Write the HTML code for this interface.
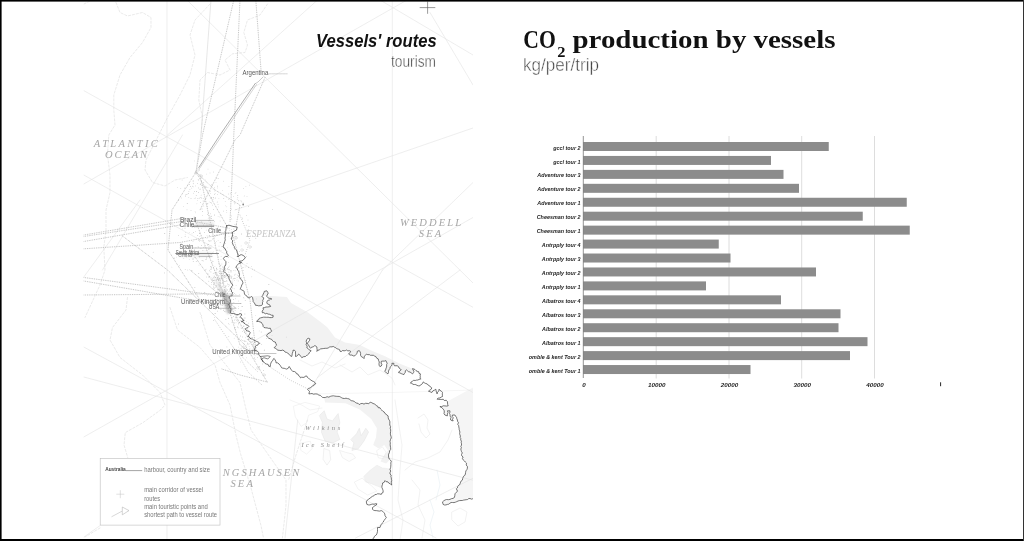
<!DOCTYPE html>
<html><head><meta charset="utf-8"><title>Vessels</title>
<style>
html,body{margin:0;padding:0;background:#fff;overflow:hidden}
body{width:1024px;height:541px;position:relative;font-family:"Liberation Sans",sans-serif}
svg{position:absolute;left:0;top:0;display:block}
.bl{font:italic bold 6.2px "Liberation Sans",sans-serif;fill:#222}
.t1{font:bold 24.5px "Liberation Serif",serif;fill:#111}
.t2{font:18px "Liberation Sans",sans-serif;fill:#444;stroke:#fff;stroke-width:0.45px}
.v1{font:italic bold 18.5px "Liberation Sans",sans-serif;fill:#111}
.v2{font:16px "Liberation Sans",sans-serif;fill:#444;stroke:#fff;stroke-width:0.4px}
.sea{font:italic 9.5px "Liberation Serif",serif;fill:#9a9a9a}
.lb{font:7px "Liberation Sans",sans-serif;fill:#5a5a5a}
.lg{font:7.4px "Liberation Sans",sans-serif;fill:#777}
</style></head><body>
<svg style="will-change:transform" width="1024" height="541" viewBox="0 0 1024 541">
<rect x="0" y="0" width="1024" height="541" fill="#fff"/>
<g id="map">
<clipPath id="mc"><rect x="83.5" y="0" width="389.5" height="541"/></clipPath>
<g clip-path="url(#mc)" stroke-linejoin="round" stroke-linecap="round">
<path d="M251.7,296.5 L263.0,295.6 L286.9,297.1 L291.0,303.0 L308.0,312.5 L321.3,322.5 L327.5,327.5 L335.0,337.5 L345.0,342.5 L360.0,345.0 L370.0,350.0 L385.0,356.3 L400.0,363.8 L412.5,368.8 L420.0,375.0 L422.5,380.0 L420.5,379.2 L420.5,373.9 L417.2,371.3 L412.5,368.6 L413.9,371.3 L412.5,373.9 L406.5,369.9 L403.9,374.6 L398.5,372.6 L401.2,369.9 L398.5,366.6 L394.6,365.9 L393.9,363.3 L391.9,363.3 L389.9,368.6 L387.9,373.9 L384.6,371.3 L387.2,363.3 L385.9,360.6 L381.3,361.3 L381.9,364.6 L379.9,366.6 L378.6,360.6 L375.9,356.6 L371.9,355.3 L366.6,354.0 L365.3,355.3 L364.0,358.6 L361.3,356.6 L359.3,350.6 L357.3,351.3 L356.0,354.6 L353.3,355.9 L348.6,354.0 L350.6,351.3 L346.7,350.0 L340.0,351.3 L339.5,349.6 L333.2,346.4 L326.9,348.3 L320.6,348.9 L316.9,351.4 L316.9,347.0 L314.3,345.8 L310.6,348.3 L307.4,343.9 L309.9,338.9 L308.1,338.2 L306.2,341.4 L306.8,347.7 L311.2,350.8 L309.3,352.7 L305.5,356.5 L301.8,357.7 L298.6,354.0 L295.5,356.5 L295.5,351.4 L293.0,350.2 L291.7,356.5 L287.9,353.3 L284.2,350.8 L277.9,350.2 L274.1,347.7 L276.6,345.2 L275.3,342.0 L270.3,338.9 L266.5,335.7 L267.8,333.8 L271.6,331.3 L270.3,328.2 L264.0,327.5 L261.5,322.5 L256.7,321.6 L260.5,317.9 L268.1,317.2 L273.1,317.2 L273.1,315.3 L268.1,314.1 L262.4,312.8 L263.0,307.8 L270.6,306.5 L266.8,302.8 L268.1,300.3 L271.8,299.0 L266.8,296.5 L268.1,294.0 L266.8,290.8 L264.3,291.4 L261.8,296.5 L263.6,297.7 L261.8,305.3 L255.5,305.3 L254.2,302.8 L251.7,296.5 Z" fill="#f2f2f2" stroke="none" stroke-width="0.7" />
<path d="M447.4,401.6 L474.0,387.0 L474.0,498.0 L474.0,498.0 L461.0,500.5 L452.5,502.5 L447.5,504.4 L443.1,504.4 L442.5,501.9 L445.0,500.0 L450.0,499.4 L454.4,497.5 L455.0,493.8 L457.5,491.3 L456.3,488.8 L458.5,485.4 L464.8,475.4 L467.4,468.2 L466.5,463.2 L463.2,459.9 L461.5,451.6 L460.7,439.9 L459.1,428.3 L457.4,420.0 L454.9,415.0 L452.4,415.0 L453.2,420.8 L450.7,420.0 L449.9,410.8 L447.4,410.8 L447.4,415.8 L444.9,415.0 L443.2,409.1 L439.9,406.6 L443.2,405.8 L448.2,405.8 L447.4,401.6 Z" fill="#f5f5f5" stroke="none" stroke-width="0.7" />
<path d="M324.0,397.6 L330.3,396.4 L337.8,396.4 L342.8,398.3 L349.1,398.9 L354.2,401.4 L359.2,404.6 L365.5,403.3 L371.8,402.7 L375.5,404.6 L380.6,409.0 L384.3,412.1 L388.1,415.9 L389.4,420.3 L390.6,426.6 L390.6,431.6 L391.3,437.9 L390.0,441.3 L390.6,447.6 L389.4,452.6 L388.7,457.6 L391.3,461.4 L389.8,459.7 L386.1,463.4 L380.6,461.5 L382.4,457.8 L388.0,450.5 L384.3,444.9 L378.7,448.6 L373.2,444.9 L376.0,437.5 L376.9,428.3 L371.3,419.0 L360.2,409.8 L345.5,403.3 L325.1,402.4 Z" fill="#f2f2f2" stroke="none" stroke-width="0.7" />
<path d="M363.9,476.3 L369.5,470.8 L376.9,465.2 L382.4,468.0 L389.8,468.9 L390.7,481.9 L388.8,483.1 L385.0,480.6 L382.5,483.1 L380.6,487.4 L371.3,483.7 L365.8,481.9 Z" fill="#f2f2f2" stroke="#e6e6e6" stroke-width="0.4" />
<path d="M319.6,415.3 L324.2,410.7 L327.0,419.0 L332.5,420.9 L338.1,413.5 L339.9,422.7 L337.1,432.0 L339.9,439.4 L332.5,443.1 L325.1,441.2 L321.4,432.0 L322.3,422.7 Z" fill="#f2f2f2" stroke="#e2e2e2" stroke-width="0.5" />
<path d="M351.0,439.4 L356.5,433.8 L359.3,428.3 L361.2,435.7 L365.8,428.3 L368.6,432.0 L363.9,441.2 L358.4,448.6 L351.9,450.5 L353.8,443.1 Z" fill="#f2f2f2" stroke="#e2e2e2" stroke-width="0.5" />
<path d="M324.2,448.6 L329.7,450.5 L330.7,459.7 L327.0,465.2 L323.3,459.7 Z" fill="#fdfdfd" stroke="#e2e2e2" stroke-width="0.5" />
<path d="M339.9,450.5 L345.5,452.3 L352.8,454.1 L355.6,457.8 L349.1,461.5 L342.7,457.8 Z" fill="#fdfdfd" stroke="#e4e4e4" stroke-width="0.5" />
<path d="M293.7,406.1 L304.8,402.4 L319.6,406.1 L317.7,411.6 L308.5,415.3 L306.6,422.7 L301.1,426.4 L295.5,417.2 Z" fill="none" stroke="#e9e9e9" stroke-width="0.5" />
<path d="M301.1,443.1 L310.3,441.2 L312.2,448.6 L306.6,454.1 L301.1,450.5 Z" fill="none" stroke="#e9e9e9" stroke-width="0.5" />
<path d="M354.7,481.9 L362.1,478.2 L371.3,485.6 L376.9,491.1 L367.6,495.0 L358.4,489.3 Z" fill="none" stroke="#e6e6e6" stroke-width="0.5" />
<path d="M376.9,450.5 L382.4,446.8 L386.1,452.3 L383.3,458.8 L378.7,457.8 Z" fill="none" stroke="#e6e6e6" stroke-width="0.5" />
<path d="M340.0,365.0 L352.0,372.0 L360.0,367.0 L368.0,375.0 L380.0,370.0 L392.0,378.0 L395.0,385.0" fill="none" stroke="#e9e9e9" stroke-width="0.6" />
<path d="M300.0,360.0 L312.0,366.0 L322.0,362.0 L335.0,368.0 L345.0,364.0" fill="none" stroke="#e9e9e9" stroke-width="0.6" />
<path d="M395.0,400.0 L398.0,420.0 L402.0,445.0 L400.0,470.0 L398.0,500.0 L403.0,520.0 L400.0,540.0" fill="none" stroke="#e9e9e9" stroke-width="0.6" />
<path d="M405.0,470.0 L415.0,462.0 L428.0,458.0 L440.0,452.0 L448.0,440.0 L452.0,430.0" fill="none" stroke="#e9e9e9" stroke-width="0.6" />
<path d="M418.0,418.0 L424.0,414.0 L428.0,420.0 L427.0,428.0 L430.0,434.0 L426.0,438.0 L421.0,432.0 L419.0,424.0" fill="none" stroke="#e9e9e9" stroke-width="0.6" />
<path d="M412.0,480.0 L420.0,490.0 L418.0,505.0 L425.0,520.0 L422.0,538.0" fill="none" stroke="#e9e9e9" stroke-width="0.6" />
<path d="M452.0,512.0 L460.0,508.0 L467.0,512.0 L465.0,522.0 L458.0,526.0 L452.0,520.0 Z" fill="none" stroke="#e9e9e9" stroke-width="0.6" />
<path d="M430.0,500.0 L434.0,512.0 L430.0,525.0 L433.0,538.0" fill="none" stroke="#e6eef4" stroke-width="0.6" />
<path d="M437.0,470.0 L440.0,485.0 L436.0,500.0" fill="none" stroke="#e6eef4" stroke-width="0.6" />
<path d="M310.0,394.0 L392.0,392.5 L473.0,390.0" fill="none" stroke="#ececec" stroke-width="0.5" />
<path d="M290.0,400.0 L300.0,404.0 L310.0,410.0 L322.0,408.0" fill="none" stroke="#e9e9e9" stroke-width="0.5" />
<line x1="167" y1="0" x2="167" y2="541" stroke="#e3e3e3" stroke-width="0.6" />
<line x1="392.3" y1="0" x2="392.3" y2="541" stroke="#e3e3e3" stroke-width="0.6" />
<line x1="83.75" y1="90.6" x2="473" y2="307.3" stroke="#e3e3e3" stroke-width="0.6" />
<line x1="83.75" y1="175" x2="473" y2="392.5" stroke="#e3e3e3" stroke-width="0.6" />
<line x1="187" y1="0" x2="473" y2="283" stroke="#e3e3e3" stroke-width="0.6" />
<line x1="407" y1="0" x2="83.75" y2="184" stroke="#e3e3e3" stroke-width="0.6" />
<line x1="317.5" y1="0" x2="167.5" y2="135" stroke="#e3e3e3" stroke-width="0.6" />
<line x1="182.5" y1="135" x2="102.5" y2="270" stroke="#e3e3e3" stroke-width="0.6" />
<line x1="235" y1="210" x2="473" y2="128" stroke="#e3e3e3" stroke-width="0.6" />
<line x1="430" y1="12.5" x2="473" y2="85" stroke="#e3e3e3" stroke-width="0.6" />
<line x1="380" y1="0" x2="473" y2="55" stroke="#e3e3e3" stroke-width="0.6" />
<line x1="473" y1="182.5" x2="382.5" y2="270" stroke="#e3e3e3" stroke-width="0.6" />
<line x1="382.5" y1="270" x2="310" y2="390" stroke="#e3e3e3" stroke-width="0.6" />
<line x1="460" y1="270" x2="317.5" y2="377.5" stroke="#e3e3e3" stroke-width="0.6" />
<line x1="83.75" y1="437" x2="473" y2="217.5" stroke="#e3e3e3" stroke-width="0.6" />
<line x1="83.75" y1="347" x2="436" y2="538" stroke="#e3e3e3" stroke-width="0.6" />
<line x1="83.75" y1="377" x2="473.6" y2="480.4" stroke="#e3e3e3" stroke-width="0.6" />
<line x1="355.5" y1="538" x2="473.6" y2="477.9" stroke="#e3e3e3" stroke-width="0.6" />
<line x1="297.7" y1="420" x2="285" y2="538" stroke="#e3e3e3" stroke-width="0.6" />
<line x1="100" y1="525.6" x2="84" y2="537" stroke="#e3e3e3" stroke-width="0.6" />
<line x1="83.75" y1="277" x2="140" y2="200" stroke="#e3e3e3" stroke-width="0.6" />
<path d="M116.0,2.5 L120.0,12.5 L127.5,16.0 L142.5,12.5 L151.0,17.5 L151.0,27.5 L142.5,42.5 L130.0,57.5 L120.0,75.0 L113.8,95.0 L113.8,110.0 L115.0,125.0 L108.8,135.0 L107.5,155.0 L110.0,175.0 L110.0,192.5 L106.0,210.0 L106.0,230.0 L103.8,247.5 L105.0,270.0 L100.0,285.0 L85.0,317.5" fill="none" stroke="#dbdbdb" stroke-width="0.6" stroke-dasharray="2.2 1.8"/>
<path d="M210.0,4.0 L195.0,20.0 L190.0,35.0 L195.0,55.0 L190.0,75.0 L180.0,95.0 L167.5,117.5 L160.0,132.5 L146.0,160.0 L145.0,170.0 L152.5,182.5 L165.0,186.0 L175.0,180.0 L187.5,177.5" fill="none" stroke="#dbdbdb" stroke-width="0.6" stroke-dasharray="2.2 1.8"/>
<path d="M267.5,4.0 L260.0,15.0 L247.5,20.0 L243.8,32.5 L247.5,45.0 L245.0,52.5 L232.5,53.8 L225.0,60.0 L230.0,70.0 L220.0,75.0 L207.5,72.5 L200.0,80.0 L198.8,100.0 L202.5,117.5 L201.0,135.0" fill="none" stroke="#dbdbdb" stroke-width="0.6" stroke-dasharray="2.2 1.8"/>
<path d="M127.5,297.5 L126.0,310.0 L112.5,327.5 L110.0,340.0 L120.0,357.5 L142.5,375.0 L160.0,392.5 L165.0,405.0 L160.5,410.0 L143.0,422.6 L125.3,432.6 L124.0,445.0 L127.8,457.8" fill="none" stroke="#dbdbdb" stroke-width="0.6" stroke-dasharray="2.2 1.8"/>
<path d="M170.0,307.5 L177.5,330.0 L200.0,347.5 L215.0,365.0 L220.0,382.5 L230.0,405.0 L235.9,435.0 L240.9,455.0 L251.0,488.0 L261.0,525.6 L263.5,538.0" fill="none" stroke="#dbdbdb" stroke-width="0.6" stroke-dasharray="2.2 1.8"/>
<path d="M200.0,312.5 L210.0,345.0 L240.0,382.5 L245.0,405.0 L251.0,430.0 L268.5,455.0 L286.0,480.0 L286.0,505.5 L282.4,538.0" fill="none" stroke="#dbdbdb" stroke-width="0.6" stroke-dasharray="2.2 1.8"/>
<path d="M307.5,420.0 L296.0,455.0 L288.6,480.0" fill="none" stroke="#dbdbdb" stroke-width="0.6" stroke-dasharray="2.2 1.8"/>
<path d="M100.0,528.0 L85.0,537.0" fill="none" stroke="#dbdbdb" stroke-width="0.6" stroke-dasharray="2.2 1.8"/>
<path d="M84.0,4.0 L90.0,1.0" fill="none" stroke="#dbdbdb" stroke-width="0.6" stroke-dasharray="2.2 1.8"/>
<path d="M233.8,0.0 L202.5,135.0 L196.0,172.5" fill="none" stroke="#a2a2a2" stroke-width="0.7" stroke-dasharray="0.1 1.7"/>
<path d="M240.0,0.0 L233.8,135.0 L232.5,167.5 L230.0,222.5" fill="none" stroke="#a2a2a2" stroke-width="0.7" stroke-dasharray="0.1 1.7"/>
<path d="M255.8,0.0 L261.2,72.5" fill="none" stroke="#a2a2a2" stroke-width="0.7" stroke-dasharray="0.1 1.7"/>
<path d="M265.0,77.5 L240.0,135.0 L235.0,140.0 L200.0,210.0" fill="none" stroke="#a2a2a2" stroke-width="0.7" stroke-dasharray="0.1 1.7"/>
<path d="M83.8,235.0 L180.0,218.8 L228.0,228.0" fill="none" stroke="#a2a2a2" stroke-width="0.7" stroke-dasharray="0.1 1.7"/>
<path d="M83.8,236.5 L182.0,221.5" fill="none" stroke="#a2a2a2" stroke-width="0.7" stroke-dasharray="0.1 1.7"/>
<path d="M83.8,241.5 L180.0,225.0" fill="none" stroke="#a2a2a2" stroke-width="0.7" stroke-dasharray="0.1 1.7"/>
<path d="M83.8,248.8 L180.0,242.5 L229.0,233.0" fill="none" stroke="#a2a2a2" stroke-width="0.7" stroke-dasharray="0.1 1.7"/>
<path d="M122.5,236.0 L167.5,270.0 L245.0,345.0 L267.5,382.5" fill="none" stroke="#a2a2a2" stroke-width="0.7" stroke-dasharray="0.1 1.7"/>
<path d="M83.8,277.5 L215.0,295.0" fill="none" stroke="#a2a2a2" stroke-width="0.7" stroke-dasharray="0.1 1.7"/>
<path d="M83.8,281.0 L222.5,305.0" fill="none" stroke="#a2a2a2" stroke-width="0.7" stroke-dasharray="0.1 1.7"/>
<path d="M83.8,295.0 L215.0,293.8" fill="none" stroke="#a2a2a2" stroke-width="0.7" stroke-dasharray="0.1 1.7"/>
<path d="M190.0,270.0 L235.0,307.5" fill="none" stroke="#a2a2a2" stroke-width="0.7" stroke-dasharray="0.1 1.7"/>
<path d="M222.0,369.0 L240.0,375.0 L267.0,382.0" fill="none" stroke="#a2a2a2" stroke-width="0.7" stroke-dasharray="0.1 1.7"/>
<path d="M196.0,172.0 L228.0,228.0" fill="none" stroke="#a2a2a2" stroke-width="0.7" stroke-dasharray="0.1 1.7"/>
<path d="M196.0,172.0 L172.0,210.0 L168.0,250.0 L200.0,300.0 L228.0,300.0" fill="none" stroke="#a2a2a2" stroke-width="0.7" stroke-dasharray="0.1 1.7"/>
<path d="M196.0,172.0 L215.0,190.0 L240.0,205.0 L236.0,226.0" fill="none" stroke="#a2a2a2" stroke-width="0.7" stroke-dasharray="0.1 1.7"/>
<path d="M196.0,222.0 L226.0,300.0" fill="none" stroke="#a2a2a2" stroke-width="0.7" stroke-dasharray="0.1 1.7"/>
<path d="M190.0,250.0 L226.0,300.0" fill="none" stroke="#a2a2a2" stroke-width="0.7" stroke-dasharray="0.1 1.7"/>
<path d="M200.0,175.0 L212.0,230.0 L226.0,296.0" fill="none" stroke="#a2a2a2" stroke-width="0.7" stroke-dasharray="0.1 1.7"/>
<path d="M232.0,232.0 L250.0,300.0 L256.0,352.0" fill="none" stroke="#a2a2a2" stroke-width="0.7" stroke-dasharray="0.1 1.7"/>
<path d="M228.0,302.0 L256.0,352.0" fill="none" stroke="#a2a2a2" stroke-width="0.7" stroke-dasharray="0.1 1.7"/>
<path d="M226.0,300.0 L240.0,345.0 L255.0,355.0" fill="none" stroke="#a2a2a2" stroke-width="0.7" stroke-dasharray="0.1 1.7"/>
<path d="M270.0,367.0 L290.0,380.0 L310.0,390.0" fill="none" stroke="#bbb" stroke-width="0.8" stroke-dasharray="0.1 2.2"/>
<path d="M236.0,350.0 L248.0,372.0 L262.0,385.0" fill="none" stroke="#bbb" stroke-width="0.8" stroke-dasharray="0.1 2.2"/>
<path d="M215.0,320.0 L235.0,350.0 L258.0,372.0" fill="none" stroke="#bbb" stroke-width="0.8" stroke-dasharray="0.1 2.2"/>
<path d="M240.0,215.0 L250.0,240.0 L245.0,255.0" fill="none" stroke="#bbb" stroke-width="0.8" stroke-dasharray="0.1 2.2"/>
<path d="M211.0,0.0 L201.0,135.0 L196.0,172.0" fill="none" stroke="#cfcfcf" stroke-width="0.5" />
<path d="M255.0,83.8 L220.0,135.0 L198.8,167.5" fill="none" stroke="#777" stroke-width="0.6" />
<path d="M256.5,84.5 L221.5,136.0 L199.5,168.5" fill="none" stroke="#aaa" stroke-width="0.5" />
<path d="M263.0,77.0 L258.0,82.0 L255.0,83.8" fill="none" stroke="#999" stroke-width="0.5" />
<circle cx="200.2" cy="197.6" r="0.4" fill="#aaa"/>
<circle cx="215.2" cy="198.0" r="0.4" fill="#999"/>
<circle cx="182.1" cy="180.0" r="0.4" fill="#bbb"/>
<circle cx="214.4" cy="194.7" r="0.4" fill="#aaa"/>
<circle cx="203.8" cy="205.9" r="0.4" fill="#aaa"/>
<circle cx="205.6" cy="187.0" r="0.4" fill="#bbb"/>
<circle cx="193.1" cy="181.4" r="0.4" fill="#aaa"/>
<circle cx="193.2" cy="186.8" r="0.4" fill="#bbb"/>
<circle cx="223.8" cy="198.3" r="0.4" fill="#999"/>
<circle cx="191.0" cy="198.7" r="0.4" fill="#999"/>
<circle cx="187.5" cy="185.8" r="0.4" fill="#aaa"/>
<circle cx="189.3" cy="184.3" r="0.4" fill="#999"/>
<circle cx="217.2" cy="202.0" r="0.4" fill="#aaa"/>
<circle cx="193.6" cy="183.2" r="0.4" fill="#c4c4c4"/>
<circle cx="205.1" cy="179.9" r="0.4" fill="#c4c4c4"/>
<circle cx="197.6" cy="198.4" r="0.4" fill="#bbb"/>
<circle cx="200.4" cy="184.2" r="0.4" fill="#999"/>
<circle cx="180.8" cy="188.5" r="0.4" fill="#c4c4c4"/>
<circle cx="195.7" cy="221.9" r="0.4" fill="#aaa"/>
<circle cx="196.4" cy="191.5" r="0.4" fill="#999"/>
<circle cx="210.4" cy="202.4" r="0.4" fill="#aaa"/>
<circle cx="207.3" cy="191.0" r="0.4" fill="#999"/>
<circle cx="197.5" cy="200.6" r="0.4" fill="#c4c4c4"/>
<circle cx="192.4" cy="186.2" r="0.4" fill="#aaa"/>
<circle cx="214.7" cy="187.8" r="0.4" fill="#aaa"/>
<circle cx="218.9" cy="198.4" r="0.4" fill="#c4c4c4"/>
<circle cx="200.7" cy="202.6" r="0.4" fill="#999"/>
<circle cx="215.1" cy="193.7" r="0.4" fill="#bbb"/>
<circle cx="193.2" cy="183.8" r="0.4" fill="#bbb"/>
<circle cx="203.7" cy="186.2" r="0.4" fill="#bbb"/>
<circle cx="183.3" cy="206.7" r="0.4" fill="#c4c4c4"/>
<circle cx="213.5" cy="197.8" r="0.4" fill="#999"/>
<circle cx="218.1" cy="178.4" r="0.4" fill="#999"/>
<circle cx="194.3" cy="160.9" r="0.4" fill="#c4c4c4"/>
<circle cx="209.1" cy="190.3" r="0.4" fill="#bbb"/>
<circle cx="212.4" cy="205.1" r="0.4" fill="#aaa"/>
<circle cx="188.4" cy="193.4" r="0.4" fill="#999"/>
<circle cx="201.8" cy="198.0" r="0.4" fill="#999"/>
<circle cx="195.6" cy="185.9" r="0.4" fill="#bbb"/>
<circle cx="198.2" cy="179.7" r="0.4" fill="#aaa"/>
<circle cx="181.6" cy="198.0" r="0.4" fill="#c4c4c4"/>
<circle cx="194.2" cy="198.6" r="0.4" fill="#c4c4c4"/>
<circle cx="200.4" cy="189.1" r="0.4" fill="#aaa"/>
<circle cx="214.8" cy="190.9" r="0.4" fill="#aaa"/>
<circle cx="201.1" cy="195.1" r="0.4" fill="#aaa"/>
<circle cx="190.5" cy="186.4" r="0.4" fill="#999"/>
<circle cx="199.8" cy="189.2" r="0.4" fill="#bbb"/>
<circle cx="198.3" cy="187.9" r="0.4" fill="#999"/>
<circle cx="217.4" cy="187.9" r="0.4" fill="#c4c4c4"/>
<circle cx="218.3" cy="206.9" r="0.4" fill="#c4c4c4"/>
<circle cx="193.6" cy="193.2" r="0.4" fill="#bbb"/>
<circle cx="211.1" cy="198.0" r="0.4" fill="#999"/>
<circle cx="186.3" cy="194.3" r="0.4" fill="#aaa"/>
<circle cx="210.5" cy="218.0" r="0.4" fill="#999"/>
<circle cx="211.3" cy="203.0" r="0.4" fill="#aaa"/>
<circle cx="203.5" cy="182.8" r="0.4" fill="#aaa"/>
<circle cx="200.2" cy="183.9" r="0.4" fill="#999"/>
<circle cx="211.6" cy="186.4" r="0.4" fill="#bbb"/>
<circle cx="184.3" cy="188.1" r="0.4" fill="#999"/>
<circle cx="193.1" cy="180.5" r="0.4" fill="#bbb"/>
<circle cx="210.0" cy="172.9" r="0.4" fill="#bbb"/>
<circle cx="207.0" cy="204.2" r="0.4" fill="#aaa"/>
<circle cx="222.4" cy="190.7" r="0.4" fill="#c4c4c4"/>
<circle cx="202.0" cy="208.9" r="0.4" fill="#999"/>
<circle cx="178.5" cy="200.4" r="0.4" fill="#999"/>
<circle cx="213.1" cy="189.1" r="0.4" fill="#bbb"/>
<circle cx="212.9" cy="199.4" r="0.4" fill="#999"/>
<circle cx="207.4" cy="206.8" r="0.4" fill="#aaa"/>
<circle cx="187.1" cy="194.1" r="0.4" fill="#aaa"/>
<circle cx="205.8" cy="187.2" r="0.4" fill="#c4c4c4"/>
<circle cx="206.7" cy="174.1" r="0.4" fill="#c4c4c4"/>
<circle cx="212.0" cy="184.5" r="0.4" fill="#999"/>
<circle cx="225.7" cy="205.8" r="0.4" fill="#c4c4c4"/>
<circle cx="185.3" cy="196.2" r="0.4" fill="#aaa"/>
<circle cx="201.9" cy="185.4" r="0.4" fill="#bbb"/>
<circle cx="217.5" cy="194.5" r="0.4" fill="#c4c4c4"/>
<circle cx="205.1" cy="186.2" r="0.4" fill="#c4c4c4"/>
<circle cx="197.4" cy="183.5" r="0.4" fill="#bbb"/>
<circle cx="222.5" cy="194.6" r="0.4" fill="#aaa"/>
<circle cx="177.7" cy="187.7" r="0.4" fill="#c4c4c4"/>
<circle cx="210.2" cy="191.4" r="0.4" fill="#bbb"/>
<circle cx="210.5" cy="193.3" r="0.4" fill="#bbb"/>
<circle cx="203.8" cy="182.3" r="0.4" fill="#c4c4c4"/>
<circle cx="205.0" cy="188.6" r="0.4" fill="#999"/>
<circle cx="216.0" cy="182.3" r="0.4" fill="#c4c4c4"/>
<circle cx="213.5" cy="172.0" r="0.4" fill="#bbb"/>
<circle cx="189.9" cy="189.3" r="0.4" fill="#aaa"/>
<circle cx="216.3" cy="178.4" r="0.4" fill="#aaa"/>
<circle cx="204.0" cy="185.8" r="0.4" fill="#bbb"/>
<circle cx="185.6" cy="194.9" r="0.4" fill="#aaa"/>
<circle cx="196.9" cy="203.8" r="0.4" fill="#c4c4c4"/>
<circle cx="204.1" cy="186.9" r="0.4" fill="#aaa"/>
<circle cx="203.1" cy="200.9" r="0.4" fill="#aaa"/>
<circle cx="188.9" cy="191.3" r="0.4" fill="#aaa"/>
<circle cx="188.8" cy="197.3" r="0.4" fill="#bbb"/>
<circle cx="198.7" cy="180.7" r="0.4" fill="#c4c4c4"/>
<circle cx="194.7" cy="191.6" r="0.4" fill="#999"/>
<circle cx="223.6" cy="181.2" r="0.4" fill="#bbb"/>
<circle cx="206.2" cy="187.0" r="0.4" fill="#aaa"/>
<circle cx="195.5" cy="198.0" r="0.4" fill="#bbb"/>
<circle cx="196.2" cy="195.3" r="0.4" fill="#999"/>
<circle cx="208.0" cy="169.1" r="0.4" fill="#bbb"/>
<circle cx="217.7" cy="186.1" r="0.4" fill="#999"/>
<circle cx="217.2" cy="209.8" r="0.4" fill="#c4c4c4"/>
<circle cx="208.2" cy="218.7" r="0.4" fill="#c4c4c4"/>
<circle cx="207.9" cy="187.7" r="0.4" fill="#bbb"/>
<circle cx="209.2" cy="201.9" r="0.4" fill="#c4c4c4"/>
<circle cx="199.1" cy="198.2" r="0.4" fill="#999"/>
<circle cx="211.8" cy="197.7" r="0.4" fill="#999"/>
<circle cx="191.8" cy="188.1" r="0.4" fill="#aaa"/>
<circle cx="216.6" cy="280.8" r="0.4" fill="#999"/>
<circle cx="219.8" cy="275.8" r="0.4" fill="#bbb"/>
<circle cx="224.8" cy="275.5" r="0.4" fill="#999"/>
<circle cx="220.2" cy="288.9" r="0.4" fill="#bbb"/>
<circle cx="221.6" cy="279.1" r="0.4" fill="#c4c4c4"/>
<circle cx="227.3" cy="268.7" r="0.4" fill="#999"/>
<circle cx="215.8" cy="280.1" r="0.4" fill="#c4c4c4"/>
<circle cx="221.2" cy="273.5" r="0.4" fill="#aaa"/>
<circle cx="223.2" cy="272.4" r="0.4" fill="#aaa"/>
<circle cx="221.9" cy="277.1" r="0.4" fill="#aaa"/>
<circle cx="222.8" cy="273.6" r="0.4" fill="#bbb"/>
<circle cx="232.9" cy="280.9" r="0.4" fill="#c4c4c4"/>
<circle cx="241.2" cy="277.4" r="0.4" fill="#c4c4c4"/>
<circle cx="226.2" cy="273.9" r="0.4" fill="#bbb"/>
<circle cx="231.1" cy="278.5" r="0.4" fill="#aaa"/>
<circle cx="226.6" cy="275.1" r="0.4" fill="#bbb"/>
<circle cx="223.5" cy="281.0" r="0.4" fill="#999"/>
<circle cx="218.0" cy="275.2" r="0.4" fill="#c4c4c4"/>
<circle cx="218.2" cy="276.0" r="0.4" fill="#999"/>
<circle cx="228.4" cy="257.7" r="0.4" fill="#aaa"/>
<circle cx="231.7" cy="276.9" r="0.4" fill="#bbb"/>
<circle cx="217.5" cy="275.6" r="0.4" fill="#c4c4c4"/>
<circle cx="230.7" cy="282.9" r="0.4" fill="#c4c4c4"/>
<circle cx="217.8" cy="269.7" r="0.4" fill="#c4c4c4"/>
<circle cx="227.1" cy="275.0" r="0.4" fill="#bbb"/>
<circle cx="227.5" cy="275.4" r="0.4" fill="#bbb"/>
<circle cx="217.4" cy="279.1" r="0.4" fill="#aaa"/>
<circle cx="222.5" cy="275.1" r="0.4" fill="#999"/>
<circle cx="220.2" cy="276.9" r="0.4" fill="#c4c4c4"/>
<circle cx="228.1" cy="269.5" r="0.4" fill="#999"/>
<circle cx="214.5" cy="270.6" r="0.4" fill="#aaa"/>
<circle cx="218.6" cy="276.9" r="0.4" fill="#c4c4c4"/>
<circle cx="227.7" cy="276.1" r="0.4" fill="#999"/>
<circle cx="229.4" cy="274.7" r="0.4" fill="#bbb"/>
<circle cx="234.1" cy="278.7" r="0.4" fill="#bbb"/>
<circle cx="221.8" cy="276.2" r="0.4" fill="#c4c4c4"/>
<circle cx="226.2" cy="278.4" r="0.4" fill="#bbb"/>
<circle cx="222.1" cy="286.4" r="0.4" fill="#aaa"/>
<circle cx="221.8" cy="278.6" r="0.4" fill="#c4c4c4"/>
<circle cx="216.9" cy="272.9" r="0.4" fill="#999"/>
<circle cx="220.5" cy="280.1" r="0.4" fill="#bbb"/>
<circle cx="216.8" cy="268.0" r="0.4" fill="#c4c4c4"/>
<circle cx="222.9" cy="266.5" r="0.4" fill="#c4c4c4"/>
<circle cx="227.7" cy="283.8" r="0.4" fill="#bbb"/>
<circle cx="233.0" cy="279.1" r="0.4" fill="#c4c4c4"/>
<circle cx="220.9" cy="265.1" r="0.4" fill="#bbb"/>
<circle cx="230.5" cy="270.6" r="0.4" fill="#aaa"/>
<circle cx="225.7" cy="269.0" r="0.4" fill="#bbb"/>
<circle cx="223.5" cy="276.9" r="0.4" fill="#999"/>
<circle cx="227.6" cy="274.5" r="0.4" fill="#c4c4c4"/>
<circle cx="214.1" cy="273.0" r="0.4" fill="#bbb"/>
<circle cx="221.5" cy="276.0" r="0.4" fill="#aaa"/>
<circle cx="221.9" cy="268.9" r="0.4" fill="#aaa"/>
<circle cx="220.8" cy="274.1" r="0.4" fill="#c4c4c4"/>
<circle cx="222.0" cy="278.4" r="0.4" fill="#999"/>
<circle cx="223.0" cy="286.0" r="0.4" fill="#bbb"/>
<circle cx="221.0" cy="259.7" r="0.4" fill="#c4c4c4"/>
<circle cx="223.4" cy="274.0" r="0.4" fill="#999"/>
<circle cx="222.9" cy="267.7" r="0.4" fill="#bbb"/>
<circle cx="225.0" cy="277.6" r="0.4" fill="#999"/>
<circle cx="216.7" cy="268.5" r="0.4" fill="#bbb"/>
<circle cx="224.1" cy="276.2" r="0.4" fill="#999"/>
<circle cx="224.7" cy="275.5" r="0.4" fill="#bbb"/>
<circle cx="219.8" cy="271.6" r="0.4" fill="#999"/>
<circle cx="215.4" cy="277.5" r="0.4" fill="#aaa"/>
<circle cx="229.6" cy="275.7" r="0.4" fill="#999"/>
<circle cx="235.9" cy="274.1" r="0.4" fill="#aaa"/>
<circle cx="221.4" cy="278.3" r="0.4" fill="#c4c4c4"/>
<circle cx="227.9" cy="275.8" r="0.4" fill="#bbb"/>
<circle cx="224.3" cy="277.2" r="0.4" fill="#999"/>
<circle cx="225.1" cy="275.1" r="0.4" fill="#999"/>
<circle cx="229.1" cy="269.9" r="0.4" fill="#bbb"/>
<circle cx="209.7" cy="276.2" r="0.4" fill="#c4c4c4"/>
<circle cx="222.5" cy="276.1" r="0.4" fill="#c4c4c4"/>
<circle cx="219.5" cy="270.4" r="0.4" fill="#bbb"/>
<circle cx="217.0" cy="278.9" r="0.4" fill="#aaa"/>
<circle cx="222.2" cy="275.7" r="0.4" fill="#999"/>
<circle cx="223.6" cy="273.4" r="0.4" fill="#bbb"/>
<circle cx="219.0" cy="263.4" r="0.4" fill="#999"/>
<circle cx="222.0" cy="278.2" r="0.4" fill="#c4c4c4"/>
<circle cx="230.0" cy="275.9" r="0.4" fill="#999"/>
<circle cx="231.0" cy="271.5" r="0.4" fill="#aaa"/>
<circle cx="221.6" cy="277.9" r="0.4" fill="#999"/>
<circle cx="219.7" cy="273.4" r="0.4" fill="#999"/>
<circle cx="217.2" cy="278.0" r="0.4" fill="#999"/>
<circle cx="223.4" cy="269.8" r="0.4" fill="#aaa"/>
<circle cx="225.2" cy="268.2" r="0.4" fill="#bbb"/>
<circle cx="221.6" cy="274.1" r="0.4" fill="#c4c4c4"/>
<circle cx="212.4" cy="279.0" r="0.4" fill="#999"/>
<circle cx="208.8" cy="277.2" r="0.4" fill="#bbb"/>
<circle cx="225.0" cy="281.5" r="0.4" fill="#999"/>
<circle cx="219.1" cy="285.4" r="0.4" fill="#999"/>
<circle cx="218.3" cy="278.5" r="0.4" fill="#c4c4c4"/>
<circle cx="216.4" cy="273.9" r="0.4" fill="#bbb"/>
<circle cx="220.5" cy="274.1" r="0.4" fill="#c4c4c4"/>
<circle cx="215.7" cy="273.9" r="0.4" fill="#999"/>
<circle cx="228.6" cy="275.9" r="0.4" fill="#bbb"/>
<circle cx="217.7" cy="274.7" r="0.4" fill="#bbb"/>
<circle cx="220.6" cy="278.2" r="0.4" fill="#bbb"/>
<circle cx="214.6" cy="284.0" r="0.4" fill="#bbb"/>
<circle cx="229.6" cy="269.5" r="0.4" fill="#c4c4c4"/>
<circle cx="214.6" cy="282.7" r="0.4" fill="#bbb"/>
<circle cx="218.1" cy="279.8" r="0.4" fill="#aaa"/>
<circle cx="214.2" cy="276.1" r="0.4" fill="#999"/>
<circle cx="227.0" cy="281.0" r="0.4" fill="#bbb"/>
<circle cx="232.7" cy="283.0" r="0.4" fill="#c4c4c4"/>
<circle cx="216.7" cy="279.8" r="0.4" fill="#999"/>
<circle cx="229.1" cy="266.1" r="0.4" fill="#aaa"/>
<circle cx="226.4" cy="280.5" r="0.4" fill="#c4c4c4"/>
<circle cx="228.8" cy="274.6" r="0.4" fill="#aaa"/>
<circle cx="211.3" cy="284.6" r="0.4" fill="#c4c4c4"/>
<circle cx="226.5" cy="275.2" r="0.4" fill="#aaa"/>
<circle cx="222.6" cy="279.4" r="0.4" fill="#aaa"/>
<circle cx="231.0" cy="272.6" r="0.4" fill="#c4c4c4"/>
<circle cx="230.9" cy="281.3" r="0.4" fill="#aaa"/>
<circle cx="222.9" cy="271.7" r="0.4" fill="#aaa"/>
<circle cx="218.9" cy="272.0" r="0.4" fill="#bbb"/>
<circle cx="216.8" cy="270.8" r="0.4" fill="#c4c4c4"/>
<circle cx="221.1" cy="273.2" r="0.4" fill="#aaa"/>
<circle cx="217.5" cy="289.7" r="0.4" fill="#bbb"/>
<circle cx="201.5" cy="245.5" r="0.4" fill="#aaa"/>
<circle cx="218.1" cy="240.7" r="0.4" fill="#c4c4c4"/>
<circle cx="206.1" cy="250.3" r="0.4" fill="#bbb"/>
<circle cx="199.3" cy="241.4" r="0.4" fill="#bbb"/>
<circle cx="220.2" cy="242.3" r="0.4" fill="#999"/>
<circle cx="215.4" cy="242.7" r="0.4" fill="#c4c4c4"/>
<circle cx="215.5" cy="244.2" r="0.4" fill="#c4c4c4"/>
<circle cx="215.7" cy="236.1" r="0.4" fill="#aaa"/>
<circle cx="201.6" cy="222.0" r="0.4" fill="#999"/>
<circle cx="204.7" cy="232.7" r="0.4" fill="#999"/>
<circle cx="207.0" cy="225.8" r="0.4" fill="#bbb"/>
<circle cx="200.0" cy="240.2" r="0.4" fill="#bbb"/>
<circle cx="209.0" cy="248.4" r="0.4" fill="#999"/>
<circle cx="221.0" cy="250.6" r="0.4" fill="#bbb"/>
<circle cx="219.0" cy="231.6" r="0.4" fill="#aaa"/>
<circle cx="214.4" cy="237.9" r="0.4" fill="#c4c4c4"/>
<circle cx="210.5" cy="240.9" r="0.4" fill="#bbb"/>
<circle cx="191.7" cy="249.6" r="0.4" fill="#bbb"/>
<circle cx="187.9" cy="255.9" r="0.4" fill="#999"/>
<circle cx="203.5" cy="198.7" r="0.4" fill="#bbb"/>
<circle cx="204.3" cy="246.8" r="0.4" fill="#c4c4c4"/>
<circle cx="225.4" cy="243.5" r="0.4" fill="#c4c4c4"/>
<circle cx="226.5" cy="210.5" r="0.4" fill="#c4c4c4"/>
<circle cx="208.4" cy="240.8" r="0.4" fill="#999"/>
<circle cx="219.0" cy="246.1" r="0.4" fill="#aaa"/>
<circle cx="189.2" cy="232.4" r="0.4" fill="#c4c4c4"/>
<circle cx="194.2" cy="257.5" r="0.4" fill="#c4c4c4"/>
<circle cx="224.0" cy="249.8" r="0.4" fill="#bbb"/>
<circle cx="189.2" cy="259.3" r="0.4" fill="#bbb"/>
<circle cx="199.3" cy="257.6" r="0.4" fill="#c4c4c4"/>
<circle cx="220.1" cy="242.3" r="0.4" fill="#c4c4c4"/>
<circle cx="211.1" cy="240.8" r="0.4" fill="#aaa"/>
<circle cx="209.4" cy="235.9" r="0.4" fill="#bbb"/>
<circle cx="207.6" cy="214.3" r="0.4" fill="#999"/>
<circle cx="200.9" cy="248.2" r="0.4" fill="#aaa"/>
<circle cx="206.5" cy="259.0" r="0.4" fill="#999"/>
<circle cx="217.0" cy="235.4" r="0.4" fill="#aaa"/>
<circle cx="216.7" cy="241.3" r="0.4" fill="#c4c4c4"/>
<circle cx="205.1" cy="226.9" r="0.4" fill="#c4c4c4"/>
<circle cx="214.6" cy="214.3" r="0.4" fill="#c4c4c4"/>
<circle cx="217.4" cy="250.4" r="0.4" fill="#aaa"/>
<circle cx="214.4" cy="221.4" r="0.4" fill="#bbb"/>
<circle cx="199.6" cy="233.3" r="0.4" fill="#999"/>
<circle cx="187.6" cy="245.1" r="0.4" fill="#aaa"/>
<circle cx="196.1" cy="239.1" r="0.4" fill="#bbb"/>
<circle cx="208.1" cy="244.4" r="0.4" fill="#aaa"/>
<circle cx="193.0" cy="241.7" r="0.4" fill="#bbb"/>
<circle cx="232.7" cy="236.9" r="0.4" fill="#aaa"/>
<circle cx="207.5" cy="245.0" r="0.4" fill="#aaa"/>
<circle cx="176.5" cy="257.1" r="0.4" fill="#c4c4c4"/>
<circle cx="211.0" cy="245.7" r="0.4" fill="#c4c4c4"/>
<circle cx="194.9" cy="227.7" r="0.4" fill="#aaa"/>
<circle cx="209.9" cy="230.2" r="0.4" fill="#999"/>
<circle cx="197.4" cy="235.3" r="0.4" fill="#999"/>
<circle cx="210.8" cy="248.6" r="0.4" fill="#bbb"/>
<circle cx="208.9" cy="249.7" r="0.4" fill="#bbb"/>
<circle cx="202.4" cy="250.7" r="0.4" fill="#bbb"/>
<circle cx="199.3" cy="239.6" r="0.4" fill="#aaa"/>
<circle cx="187.0" cy="209.8" r="0.4" fill="#aaa"/>
<circle cx="232.8" cy="240.7" r="0.4" fill="#bbb"/>
<circle cx="249.6" cy="185.1" r="0.4" fill="#aaa"/>
<circle cx="244.2" cy="195.9" r="0.4" fill="#aaa"/>
<circle cx="248.0" cy="220.0" r="0.4" fill="#bbb"/>
<circle cx="247.0" cy="196.7" r="0.4" fill="#bbb"/>
<circle cx="234.1" cy="202.0" r="0.4" fill="#aaa"/>
<circle cx="248.5" cy="206.6" r="0.4" fill="#999"/>
<circle cx="241.5" cy="207.5" r="0.4" fill="#bbb"/>
<circle cx="272.6" cy="209.3" r="0.4" fill="#aaa"/>
<circle cx="230.6" cy="193.2" r="0.4" fill="#bbb"/>
<circle cx="245.9" cy="186.4" r="0.4" fill="#c4c4c4"/>
<circle cx="237.8" cy="195.4" r="0.4" fill="#999"/>
<circle cx="241.8" cy="201.0" r="0.4" fill="#c4c4c4"/>
<circle cx="237.2" cy="199.1" r="0.4" fill="#aaa"/>
<circle cx="243.4" cy="188.7" r="0.4" fill="#bbb"/>
<circle cx="237.8" cy="197.3" r="0.4" fill="#bbb"/>
<circle cx="234.9" cy="203.8" r="0.4" fill="#999"/>
<circle cx="235.9" cy="192.8" r="0.4" fill="#aaa"/>
<circle cx="236.0" cy="209.6" r="0.4" fill="#999"/>
<circle cx="238.7" cy="200.8" r="0.4" fill="#999"/>
<circle cx="235.1" cy="193.7" r="0.4" fill="#c4c4c4"/>
<circle cx="240.2" cy="200.8" r="0.4" fill="#bbb"/>
<circle cx="226.8" cy="206.8" r="0.4" fill="#c4c4c4"/>
<circle cx="233.3" cy="196.4" r="0.4" fill="#bbb"/>
<circle cx="241.8" cy="201.9" r="0.4" fill="#bbb"/>
<circle cx="228.9" cy="186.4" r="0.4" fill="#aaa"/>
<circle cx="195.1" cy="211.8" r="0.4" fill="#bbb"/>
<circle cx="235.9" cy="238.4" r="0.4" fill="#bbb"/>
<circle cx="234.9" cy="224.5" r="0.4" fill="#c4c4c4"/>
<circle cx="228.6" cy="199.6" r="0.4" fill="#bbb"/>
<circle cx="218.3" cy="256.9" r="0.4" fill="#aaa"/>
<circle cx="246.2" cy="225.2" r="0.4" fill="#aaa"/>
<circle cx="210.3" cy="213.8" r="0.4" fill="#aaa"/>
<circle cx="246.4" cy="215.4" r="0.4" fill="#bbb"/>
<circle cx="207.9" cy="203.7" r="0.4" fill="#c4c4c4"/>
<circle cx="220.1" cy="221.0" r="0.4" fill="#c4c4c4"/>
<circle cx="232.6" cy="238.2" r="0.4" fill="#c4c4c4"/>
<circle cx="236.6" cy="224.5" r="0.4" fill="#999"/>
<circle cx="236.6" cy="236.4" r="0.4" fill="#bbb"/>
<circle cx="247.9" cy="233.3" r="0.4" fill="#aaa"/>
<circle cx="221.0" cy="215.7" r="0.4" fill="#c4c4c4"/>
<circle cx="211.6" cy="216.2" r="0.4" fill="#999"/>
<circle cx="219.9" cy="216.9" r="0.4" fill="#bbb"/>
<circle cx="207.0" cy="238.6" r="0.4" fill="#c4c4c4"/>
<circle cx="218.0" cy="227.8" r="0.4" fill="#aaa"/>
<circle cx="214.4" cy="215.4" r="0.4" fill="#bbb"/>
<circle cx="207.0" cy="235.3" r="0.4" fill="#c4c4c4"/>
<circle cx="243.1" cy="203.0" r="0.4" fill="#c4c4c4"/>
<circle cx="234.6" cy="233.2" r="0.4" fill="#c4c4c4"/>
<circle cx="208.9" cy="249.6" r="0.4" fill="#aaa"/>
<circle cx="236.2" cy="230.1" r="0.4" fill="#999"/>
<circle cx="231.3" cy="209.1" r="0.4" fill="#aaa"/>
<circle cx="228.4" cy="194.0" r="0.4" fill="#bbb"/>
<circle cx="233.9" cy="229.0" r="0.4" fill="#aaa"/>
<circle cx="243.7" cy="270.5" r="0.4" fill="#c4c4c4"/>
<circle cx="221.1" cy="256.4" r="0.4" fill="#bbb"/>
<circle cx="218.0" cy="204.5" r="0.4" fill="#bbb"/>
<circle cx="241.6" cy="234.0" r="0.4" fill="#999"/>
<circle cx="246.5" cy="256.6" r="0.4" fill="#999"/>
<circle cx="242.6" cy="218.1" r="0.4" fill="#999"/>
<circle cx="192.1" cy="227.5" r="0.4" fill="#bbb"/>
<circle cx="209.5" cy="215.9" r="0.4" fill="#bbb"/>
<circle cx="226.2" cy="232.0" r="0.4" fill="#bbb"/>
<circle cx="209.3" cy="241.0" r="0.4" fill="#999"/>
<circle cx="213.5" cy="197.3" r="0.4" fill="#bbb"/>
<circle cx="231.3" cy="215.9" r="0.4" fill="#aaa"/>
<circle cx="218.1" cy="216.6" r="0.4" fill="#c4c4c4"/>
<circle cx="208.2" cy="220.8" r="0.4" fill="#aaa"/>
<circle cx="227.7" cy="247.8" r="0.4" fill="#c4c4c4"/>
<circle cx="226.8" cy="212.6" r="0.4" fill="#c4c4c4"/>
<circle cx="249.0" cy="226.7" r="0.4" fill="#999"/>
<circle cx="224.8" cy="233.8" r="0.4" fill="#bbb"/>
<circle cx="239.7" cy="251.7" r="0.4" fill="#aaa"/>
<circle cx="222.5" cy="246.5" r="0.4" fill="#999"/>
<circle cx="198.5" cy="192.7" r="0.4" fill="#999"/>
<circle cx="225.2" cy="201.6" r="0.4" fill="#bbb"/>
<circle cx="241.1" cy="245.9" r="0.4" fill="#c4c4c4"/>
<circle cx="214.8" cy="235.5" r="0.4" fill="#aaa"/>
<circle cx="235.8" cy="236.5" r="0.4" fill="#aaa"/>
<circle cx="229.1" cy="228.2" r="0.4" fill="#999"/>
<circle cx="221.6" cy="246.4" r="0.4" fill="#bbb"/>
<circle cx="216.4" cy="235.0" r="0.4" fill="#bbb"/>
<circle cx="234.4" cy="249.5" r="0.4" fill="#c4c4c4"/>
<circle cx="229.5" cy="230.3" r="0.4" fill="#bbb"/>
<circle cx="223.4" cy="211.1" r="0.4" fill="#aaa"/>
<circle cx="207.1" cy="203.3" r="0.4" fill="#999"/>
<circle cx="217.8" cy="235.2" r="0.4" fill="#aaa"/>
<circle cx="255.8" cy="238.2" r="0.4" fill="#999"/>
<circle cx="210.6" cy="216.2" r="0.4" fill="#c4c4c4"/>
<circle cx="228.3" cy="262.6" r="0.4" fill="#aaa"/>
<circle cx="231.3" cy="229.4" r="0.4" fill="#bbb"/>
<circle cx="228.4" cy="233.5" r="0.4" fill="#aaa"/>
<circle cx="248.2" cy="229.6" r="0.4" fill="#bbb"/>
<circle cx="234.7" cy="236.3" r="0.4" fill="#c4c4c4"/>
<circle cx="231.8" cy="218.9" r="0.4" fill="#999"/>
<circle cx="248.7" cy="236.8" r="0.4" fill="#c4c4c4"/>
<circle cx="195.8" cy="222.9" r="0.4" fill="#c4c4c4"/>
<circle cx="195.7" cy="212.8" r="0.4" fill="#c4c4c4"/>
<circle cx="211.2" cy="254.1" r="0.4" fill="#999"/>
<circle cx="196.3" cy="226.8" r="0.4" fill="#999"/>
<circle cx="213.7" cy="209.6" r="0.4" fill="#999"/>
<circle cx="194.1" cy="216.4" r="0.4" fill="#c4c4c4"/>
<circle cx="187.2" cy="203.5" r="0.4" fill="#999"/>
<circle cx="189.5" cy="246.0" r="0.4" fill="#bbb"/>
<circle cx="206.2" cy="230.1" r="0.4" fill="#bbb"/>
<circle cx="195.5" cy="231.3" r="0.4" fill="#bbb"/>
<circle cx="211.6" cy="218.4" r="0.4" fill="#999"/>
<circle cx="199.5" cy="233.3" r="0.4" fill="#bbb"/>
<circle cx="181.8" cy="237.4" r="0.4" fill="#c4c4c4"/>
<circle cx="183.9" cy="226.1" r="0.4" fill="#aaa"/>
<circle cx="202.7" cy="215.6" r="0.4" fill="#bbb"/>
<circle cx="188.2" cy="220.3" r="0.4" fill="#bbb"/>
<circle cx="185.7" cy="232.4" r="0.4" fill="#bbb"/>
<circle cx="197.4" cy="225.8" r="0.4" fill="#aaa"/>
<circle cx="191.7" cy="219.9" r="0.4" fill="#bbb"/>
<circle cx="195.2" cy="221.6" r="0.4" fill="#bbb"/>
<circle cx="191.0" cy="210.7" r="0.4" fill="#aaa"/>
<circle cx="195.7" cy="220.3" r="0.4" fill="#999"/>
<circle cx="203.8" cy="247.6" r="0.4" fill="#aaa"/>
<circle cx="208.2" cy="212.5" r="0.4" fill="#c4c4c4"/>
<circle cx="201.3" cy="228.2" r="0.4" fill="#aaa"/>
<circle cx="219.9" cy="229.2" r="0.4" fill="#aaa"/>
<circle cx="202.4" cy="211.4" r="0.4" fill="#999"/>
<circle cx="190.7" cy="224.8" r="0.4" fill="#bbb"/>
<circle cx="193.5" cy="232.7" r="0.4" fill="#999"/>
<circle cx="203.6" cy="225.0" r="0.4" fill="#999"/>
<circle cx="209.3" cy="256.1" r="0.4" fill="#999"/>
<circle cx="192.0" cy="233.8" r="0.4" fill="#c4c4c4"/>
<circle cx="199.9" cy="236.6" r="0.4" fill="#aaa"/>
<circle cx="190.7" cy="247.1" r="0.4" fill="#aaa"/>
<circle cx="179.3" cy="265.4" r="0.4" fill="#bbb"/>
<circle cx="185.0" cy="228.1" r="0.4" fill="#999"/>
<circle cx="190.3" cy="250.5" r="0.4" fill="#bbb"/>
<circle cx="185.2" cy="269.4" r="0.4" fill="#aaa"/>
<circle cx="203.9" cy="250.4" r="0.4" fill="#c4c4c4"/>
<circle cx="182.4" cy="228.9" r="0.4" fill="#c4c4c4"/>
<circle cx="164.8" cy="233.5" r="0.4" fill="#999"/>
<circle cx="183.8" cy="246.7" r="0.4" fill="#bbb"/>
<circle cx="198.1" cy="246.7" r="0.4" fill="#bbb"/>
<circle cx="203.2" cy="260.9" r="0.4" fill="#aaa"/>
<circle cx="153.2" cy="252.2" r="0.4" fill="#aaa"/>
<circle cx="182.2" cy="241.9" r="0.4" fill="#c4c4c4"/>
<circle cx="212.8" cy="239.0" r="0.4" fill="#aaa"/>
<circle cx="174.7" cy="258.1" r="0.4" fill="#999"/>
<circle cx="192.6" cy="259.0" r="0.4" fill="#bbb"/>
<circle cx="171.9" cy="267.1" r="0.4" fill="#bbb"/>
<circle cx="195.9" cy="247.8" r="0.4" fill="#aaa"/>
<circle cx="183.8" cy="258.7" r="0.4" fill="#bbb"/>
<circle cx="198.9" cy="240.3" r="0.4" fill="#999"/>
<circle cx="196.2" cy="261.3" r="0.4" fill="#999"/>
<circle cx="184.5" cy="247.0" r="0.4" fill="#c4c4c4"/>
<circle cx="178.4" cy="235.5" r="0.4" fill="#bbb"/>
<circle cx="187.8" cy="270.0" r="0.4" fill="#bbb"/>
<circle cx="184.6" cy="217.9" r="0.4" fill="#999"/>
<circle cx="181.1" cy="243.3" r="0.4" fill="#bbb"/>
<circle cx="186.3" cy="256.9" r="0.4" fill="#aaa"/>
<circle cx="199.0" cy="265.1" r="0.4" fill="#bbb"/>
<circle cx="164.3" cy="272.9" r="0.4" fill="#999"/>
<circle cx="188.7" cy="237.2" r="0.4" fill="#bbb"/>
<circle cx="210.4" cy="266.7" r="0.4" fill="#999"/>
<circle cx="193.2" cy="261.5" r="0.4" fill="#aaa"/>
<circle cx="213.5" cy="251.9" r="0.4" fill="#c4c4c4"/>
<circle cx="185.1" cy="236.7" r="0.4" fill="#999"/>
<circle cx="183.5" cy="251.5" r="0.4" fill="#c4c4c4"/>
<circle cx="198.9" cy="250.3" r="0.4" fill="#c4c4c4"/>
<circle cx="185.2" cy="234.8" r="0.4" fill="#c4c4c4"/>
<circle cx="236.1" cy="285.3" r="0.4" fill="#bbb"/>
<circle cx="218.6" cy="284.5" r="0.4" fill="#c4c4c4"/>
<circle cx="217.5" cy="303.8" r="0.4" fill="#aaa"/>
<circle cx="233.1" cy="294.5" r="0.4" fill="#c4c4c4"/>
<circle cx="222.1" cy="283.5" r="0.4" fill="#999"/>
<circle cx="234.1" cy="288.8" r="0.4" fill="#aaa"/>
<circle cx="217.1" cy="291.5" r="0.4" fill="#bbb"/>
<circle cx="234.4" cy="293.4" r="0.4" fill="#aaa"/>
<circle cx="215.3" cy="309.0" r="0.4" fill="#aaa"/>
<circle cx="240.6" cy="303.6" r="0.4" fill="#bbb"/>
<circle cx="219.8" cy="271.2" r="0.4" fill="#bbb"/>
<circle cx="220.5" cy="299.3" r="0.4" fill="#c4c4c4"/>
<circle cx="207.6" cy="295.1" r="0.4" fill="#aaa"/>
<circle cx="211.5" cy="282.7" r="0.4" fill="#999"/>
<circle cx="201.3" cy="315.6" r="0.4" fill="#bbb"/>
<circle cx="233.6" cy="299.5" r="0.4" fill="#aaa"/>
<circle cx="223.8" cy="283.6" r="0.4" fill="#aaa"/>
<circle cx="225.8" cy="311.8" r="0.4" fill="#aaa"/>
<circle cx="238.5" cy="301.0" r="0.4" fill="#c4c4c4"/>
<circle cx="213.6" cy="287.0" r="0.4" fill="#999"/>
<circle cx="233.9" cy="306.5" r="0.4" fill="#c4c4c4"/>
<circle cx="239.7" cy="294.6" r="0.4" fill="#bbb"/>
<circle cx="256.5" cy="298.9" r="0.4" fill="#c4c4c4"/>
<circle cx="227.5" cy="306.1" r="0.4" fill="#aaa"/>
<circle cx="232.2" cy="284.2" r="0.4" fill="#c4c4c4"/>
<circle cx="214.0" cy="285.1" r="0.4" fill="#bbb"/>
<circle cx="215.7" cy="313.7" r="0.4" fill="#c4c4c4"/>
<circle cx="216.2" cy="302.0" r="0.4" fill="#bbb"/>
<circle cx="228.5" cy="286.7" r="0.4" fill="#bbb"/>
<circle cx="224.7" cy="311.6" r="0.4" fill="#999"/>
<circle cx="244.0" cy="298.1" r="0.4" fill="#c4c4c4"/>
<circle cx="245.2" cy="300.3" r="0.4" fill="#999"/>
<circle cx="215.0" cy="313.6" r="0.4" fill="#999"/>
<circle cx="213.4" cy="301.6" r="0.4" fill="#aaa"/>
<circle cx="219.9" cy="290.4" r="0.4" fill="#999"/>
<circle cx="228.5" cy="296.7" r="0.4" fill="#999"/>
<circle cx="227.4" cy="293.5" r="0.4" fill="#999"/>
<circle cx="224.6" cy="298.5" r="0.4" fill="#aaa"/>
<circle cx="227.2" cy="304.5" r="0.4" fill="#999"/>
<circle cx="226.0" cy="305.6" r="0.4" fill="#bbb"/>
<circle cx="230.7" cy="293.9" r="0.4" fill="#c4c4c4"/>
<circle cx="222.1" cy="305.7" r="0.4" fill="#c4c4c4"/>
<circle cx="227.9" cy="293.0" r="0.4" fill="#aaa"/>
<circle cx="213.5" cy="277.8" r="0.4" fill="#999"/>
<circle cx="232.0" cy="317.4" r="0.4" fill="#aaa"/>
<circle cx="225.3" cy="287.1" r="0.4" fill="#aaa"/>
<circle cx="217.2" cy="296.8" r="0.4" fill="#bbb"/>
<circle cx="232.3" cy="288.0" r="0.4" fill="#aaa"/>
<circle cx="200.1" cy="302.6" r="0.4" fill="#c4c4c4"/>
<circle cx="226.2" cy="307.2" r="0.4" fill="#aaa"/>
<circle cx="231.6" cy="308.9" r="0.4" fill="#c4c4c4"/>
<circle cx="214.3" cy="280.2" r="0.4" fill="#999"/>
<circle cx="178.3" cy="324.0" r="0.4" fill="#aaa"/>
<circle cx="230.8" cy="310.3" r="0.4" fill="#aaa"/>
<circle cx="229.6" cy="300.5" r="0.4" fill="#999"/>
<circle cx="227.9" cy="295.0" r="0.4" fill="#c4c4c4"/>
<circle cx="200.5" cy="302.5" r="0.4" fill="#aaa"/>
<circle cx="228.8" cy="312.1" r="0.4" fill="#bbb"/>
<circle cx="213.4" cy="320.3" r="0.4" fill="#999"/>
<circle cx="214.7" cy="317.5" r="0.4" fill="#bbb"/>
<circle cx="223.7" cy="310.7" r="0.4" fill="#999"/>
<circle cx="204.8" cy="292.5" r="0.4" fill="#999"/>
<circle cx="217.4" cy="311.1" r="0.4" fill="#999"/>
<circle cx="216.4" cy="299.8" r="0.4" fill="#999"/>
<circle cx="243.3" cy="297.3" r="0.4" fill="#aaa"/>
<circle cx="220.9" cy="309.2" r="0.4" fill="#999"/>
<circle cx="248.4" cy="323.1" r="0.4" fill="#aaa"/>
<circle cx="226.7" cy="296.6" r="0.4" fill="#c4c4c4"/>
<circle cx="222.3" cy="298.9" r="0.4" fill="#999"/>
<circle cx="228.9" cy="302.3" r="0.4" fill="#c4c4c4"/>
<circle cx="224.6" cy="265.8" r="0.4" fill="#c4c4c4"/>
<circle cx="225.6" cy="265.6" r="0.4" fill="#aaa"/>
<circle cx="239.5" cy="289.4" r="0.4" fill="#c4c4c4"/>
<circle cx="231.6" cy="270.6" r="0.4" fill="#bbb"/>
<circle cx="243.1" cy="267.3" r="0.4" fill="#aaa"/>
<circle cx="248.5" cy="267.5" r="0.4" fill="#999"/>
<circle cx="239.8" cy="271.1" r="0.4" fill="#999"/>
<circle cx="228.9" cy="272.1" r="0.4" fill="#999"/>
<circle cx="237.1" cy="277.4" r="0.4" fill="#aaa"/>
<circle cx="223.0" cy="281.0" r="0.4" fill="#aaa"/>
<circle cx="223.8" cy="275.2" r="0.4" fill="#aaa"/>
<circle cx="237.6" cy="264.7" r="0.4" fill="#c4c4c4"/>
<circle cx="234.4" cy="275.6" r="0.4" fill="#c4c4c4"/>
<circle cx="209.8" cy="257.4" r="0.4" fill="#bbb"/>
<circle cx="225.8" cy="276.6" r="0.4" fill="#aaa"/>
<circle cx="245.8" cy="280.6" r="0.4" fill="#bbb"/>
<circle cx="228.6" cy="267.4" r="0.4" fill="#aaa"/>
<circle cx="233.9" cy="270.3" r="0.4" fill="#aaa"/>
<circle cx="237.0" cy="280.0" r="0.4" fill="#c4c4c4"/>
<circle cx="251.8" cy="276.8" r="0.4" fill="#bbb"/>
<circle cx="220.3" cy="280.0" r="0.4" fill="#aaa"/>
<circle cx="225.0" cy="287.4" r="0.4" fill="#bbb"/>
<circle cx="235.5" cy="270.8" r="0.4" fill="#c4c4c4"/>
<circle cx="213.5" cy="280.7" r="0.4" fill="#999"/>
<circle cx="238.8" cy="273.3" r="0.4" fill="#aaa"/>
<circle cx="237.7" cy="275.1" r="0.4" fill="#aaa"/>
<circle cx="229.4" cy="280.6" r="0.4" fill="#bbb"/>
<circle cx="254.3" cy="270.0" r="0.4" fill="#aaa"/>
<circle cx="226.1" cy="297.3" r="0.4" fill="#c4c4c4"/>
<circle cx="230.1" cy="276.1" r="0.4" fill="#aaa"/>
<circle cx="226.6" cy="285.9" r="0.4" fill="#c4c4c4"/>
<circle cx="218.8" cy="277.5" r="0.4" fill="#c4c4c4"/>
<circle cx="252.5" cy="269.1" r="0.4" fill="#999"/>
<circle cx="235.1" cy="278.4" r="0.4" fill="#999"/>
<circle cx="247.0" cy="263.2" r="0.4" fill="#aaa"/>
<circle cx="242.6" cy="263.2" r="0.4" fill="#999"/>
<circle cx="212.4" cy="261.1" r="0.4" fill="#bbb"/>
<circle cx="225.1" cy="285.6" r="0.4" fill="#bbb"/>
<circle cx="238.9" cy="267.4" r="0.4" fill="#aaa"/>
<circle cx="232.6" cy="282.1" r="0.4" fill="#bbb"/>
<circle cx="220.3" cy="265.5" r="0.4" fill="#aaa"/>
<circle cx="234.7" cy="280.3" r="0.4" fill="#bbb"/>
<circle cx="233.1" cy="294.3" r="0.4" fill="#c4c4c4"/>
<circle cx="233.6" cy="278.5" r="0.4" fill="#c4c4c4"/>
<circle cx="238.0" cy="268.6" r="0.4" fill="#bbb"/>
<circle cx="234.7" cy="278.2" r="0.4" fill="#c4c4c4"/>
<circle cx="229.4" cy="276.5" r="0.4" fill="#999"/>
<circle cx="234.8" cy="274.3" r="0.4" fill="#c4c4c4"/>
<circle cx="231.9" cy="276.1" r="0.4" fill="#999"/>
<circle cx="237.0" cy="267.8" r="0.4" fill="#999"/>
<circle cx="245.1" cy="267.0" r="0.4" fill="#c4c4c4"/>
<circle cx="229.3" cy="274.7" r="0.4" fill="#bbb"/>
<circle cx="238.2" cy="280.9" r="0.4" fill="#999"/>
<circle cx="227.6" cy="284.8" r="0.4" fill="#c4c4c4"/>
<circle cx="239.7" cy="255.6" r="0.4" fill="#bbb"/>
<circle cx="268.9" cy="284.5" r="0.4" fill="#999"/>
<circle cx="242.4" cy="267.8" r="0.4" fill="#c4c4c4"/>
<circle cx="237.4" cy="269.3" r="0.4" fill="#aaa"/>
<circle cx="229.2" cy="285.0" r="0.4" fill="#aaa"/>
<circle cx="241.6" cy="278.8" r="0.4" fill="#c4c4c4"/>
<circle cx="242.9" cy="340.7" r="0.4" fill="#999"/>
<circle cx="224.0" cy="358.0" r="0.4" fill="#bbb"/>
<circle cx="249.9" cy="348.3" r="0.4" fill="#bbb"/>
<circle cx="261.7" cy="344.6" r="0.4" fill="#aaa"/>
<circle cx="264.5" cy="349.8" r="0.4" fill="#c4c4c4"/>
<circle cx="226.9" cy="346.9" r="0.4" fill="#aaa"/>
<circle cx="261.2" cy="332.0" r="0.4" fill="#aaa"/>
<circle cx="248.6" cy="340.0" r="0.4" fill="#999"/>
<circle cx="234.2" cy="338.2" r="0.4" fill="#c4c4c4"/>
<circle cx="259.6" cy="366.3" r="0.4" fill="#999"/>
<circle cx="286.3" cy="337.1" r="0.4" fill="#bbb"/>
<circle cx="263.4" cy="370.3" r="0.4" fill="#999"/>
<circle cx="264.2" cy="350.5" r="0.4" fill="#aaa"/>
<circle cx="251.9" cy="341.8" r="0.4" fill="#c4c4c4"/>
<circle cx="256.3" cy="347.3" r="0.4" fill="#aaa"/>
<circle cx="266.7" cy="338.3" r="0.4" fill="#999"/>
<circle cx="239.1" cy="338.1" r="0.4" fill="#aaa"/>
<circle cx="238.6" cy="347.1" r="0.4" fill="#c4c4c4"/>
<circle cx="259.8" cy="354.7" r="0.4" fill="#bbb"/>
<circle cx="229.7" cy="352.8" r="0.4" fill="#aaa"/>
<circle cx="224.0" cy="350.3" r="0.4" fill="#aaa"/>
<circle cx="262.5" cy="363.9" r="0.4" fill="#aaa"/>
<circle cx="272.0" cy="335.3" r="0.4" fill="#bbb"/>
<circle cx="255.3" cy="315.3" r="0.4" fill="#c4c4c4"/>
<circle cx="259.2" cy="330.9" r="0.4" fill="#c4c4c4"/>
<circle cx="260.4" cy="343.2" r="0.4" fill="#bbb"/>
<circle cx="233.3" cy="347.4" r="0.4" fill="#bbb"/>
<circle cx="240.4" cy="362.0" r="0.4" fill="#bbb"/>
<circle cx="246.6" cy="330.2" r="0.4" fill="#bbb"/>
<circle cx="243.7" cy="347.6" r="0.4" fill="#c4c4c4"/>
<circle cx="244.1" cy="348.7" r="0.4" fill="#999"/>
<circle cx="240.9" cy="340.7" r="0.4" fill="#bbb"/>
<circle cx="249.6" cy="350.8" r="0.4" fill="#c4c4c4"/>
<circle cx="254.8" cy="341.6" r="0.4" fill="#aaa"/>
<circle cx="235.6" cy="329.5" r="0.4" fill="#bbb"/>
<circle cx="228.8" cy="336.6" r="0.4" fill="#aaa"/>
<circle cx="249.6" cy="353.0" r="0.4" fill="#999"/>
<circle cx="241.5" cy="348.9" r="0.4" fill="#bbb"/>
<circle cx="254.8" cy="342.5" r="0.4" fill="#999"/>
<circle cx="243.8" cy="348.6" r="0.4" fill="#999"/>
<circle cx="227.3" cy="277.8" r="0.4" fill="#c4c4c4"/>
<circle cx="219.5" cy="250.0" r="0.4" fill="#bbb"/>
<circle cx="191.9" cy="270.7" r="0.4" fill="#999"/>
<circle cx="220.9" cy="275.8" r="0.4" fill="#c4c4c4"/>
<circle cx="218.6" cy="279.9" r="0.4" fill="#bbb"/>
<circle cx="224.4" cy="247.8" r="0.4" fill="#bbb"/>
<circle cx="212.8" cy="253.0" r="0.4" fill="#aaa"/>
<circle cx="229.0" cy="236.2" r="0.4" fill="#c4c4c4"/>
<circle cx="215.6" cy="253.3" r="0.4" fill="#bbb"/>
<circle cx="198.3" cy="247.7" r="0.4" fill="#bbb"/>
<circle cx="206.8" cy="257.3" r="0.4" fill="#aaa"/>
<circle cx="209.0" cy="246.2" r="0.4" fill="#aaa"/>
<circle cx="202.1" cy="260.5" r="0.4" fill="#999"/>
<circle cx="230.3" cy="238.5" r="0.4" fill="#c4c4c4"/>
<circle cx="227.1" cy="269.7" r="0.4" fill="#c4c4c4"/>
<circle cx="228.9" cy="277.4" r="0.4" fill="#bbb"/>
<circle cx="225.3" cy="286.3" r="0.4" fill="#999"/>
<circle cx="236.2" cy="267.0" r="0.4" fill="#aaa"/>
<circle cx="194.9" cy="287.5" r="0.4" fill="#aaa"/>
<circle cx="231.1" cy="277.3" r="0.4" fill="#999"/>
<circle cx="220.1" cy="234.3" r="0.4" fill="#aaa"/>
<circle cx="213.3" cy="268.5" r="0.4" fill="#c4c4c4"/>
<circle cx="212.0" cy="263.1" r="0.4" fill="#bbb"/>
<circle cx="251.3" cy="266.7" r="0.4" fill="#bbb"/>
<circle cx="208.8" cy="256.2" r="0.4" fill="#999"/>
<circle cx="214.9" cy="287.8" r="0.4" fill="#aaa"/>
<circle cx="246.7" cy="265.9" r="0.4" fill="#bbb"/>
<circle cx="213.1" cy="288.6" r="0.4" fill="#c4c4c4"/>
<circle cx="193.4" cy="258.9" r="0.4" fill="#aaa"/>
<circle cx="211.3" cy="267.0" r="0.4" fill="#bbb"/>
<circle cx="221.9" cy="264.0" r="0.4" fill="#c4c4c4"/>
<circle cx="194.7" cy="249.8" r="0.4" fill="#aaa"/>
<circle cx="225.3" cy="271.9" r="0.4" fill="#bbb"/>
<circle cx="205.3" cy="259.4" r="0.4" fill="#bbb"/>
<circle cx="226.0" cy="276.6" r="0.4" fill="#c4c4c4"/>
<circle cx="228.4" cy="284.5" r="0.4" fill="#c4c4c4"/>
<circle cx="208.5" cy="244.3" r="0.4" fill="#aaa"/>
<circle cx="188.6" cy="282.3" r="0.4" fill="#999"/>
<circle cx="209.5" cy="270.8" r="0.4" fill="#999"/>
<circle cx="209.2" cy="235.7" r="0.4" fill="#999"/>
<circle cx="250.4" cy="338.4" r="0.4" fill="#bbb"/>
<circle cx="228.2" cy="301.6" r="0.4" fill="#bbb"/>
<circle cx="209.8" cy="276.5" r="0.4" fill="#aaa"/>
<circle cx="218.0" cy="290.2" r="0.4" fill="#c4c4c4"/>
<circle cx="244.9" cy="314.0" r="0.4" fill="#aaa"/>
<circle cx="211.1" cy="268.0" r="0.4" fill="#999"/>
<circle cx="241.4" cy="322.0" r="0.4" fill="#aaa"/>
<circle cx="218.2" cy="289.4" r="0.4" fill="#aaa"/>
<circle cx="222.8" cy="300.1" r="0.4" fill="#aaa"/>
<circle cx="225.7" cy="270.4" r="0.4" fill="#999"/>
<circle cx="206.1" cy="269.2" r="0.4" fill="#c4c4c4"/>
<circle cx="220.5" cy="282.0" r="0.4" fill="#c4c4c4"/>
<circle cx="237.3" cy="326.9" r="0.4" fill="#999"/>
<circle cx="245.6" cy="337.8" r="0.4" fill="#c4c4c4"/>
<circle cx="219.9" cy="280.3" r="0.4" fill="#999"/>
<circle cx="236.0" cy="322.8" r="0.4" fill="#bbb"/>
<circle cx="229.7" cy="303.2" r="0.4" fill="#c4c4c4"/>
<circle cx="206.6" cy="277.0" r="0.4" fill="#bbb"/>
<circle cx="225.1" cy="300.0" r="0.4" fill="#bbb"/>
<circle cx="226.0" cy="291.1" r="0.4" fill="#aaa"/>
<circle cx="235.6" cy="327.3" r="0.4" fill="#c4c4c4"/>
<circle cx="245.2" cy="348.2" r="0.4" fill="#bbb"/>
<circle cx="252.4" cy="344.6" r="0.4" fill="#c4c4c4"/>
<circle cx="223.0" cy="303.7" r="0.4" fill="#999"/>
<circle cx="241.6" cy="339.4" r="0.4" fill="#c4c4c4"/>
<circle cx="219.5" cy="286.5" r="0.4" fill="#bbb"/>
<circle cx="235.1" cy="307.5" r="0.4" fill="#aaa"/>
<circle cx="241.2" cy="310.3" r="0.4" fill="#c4c4c4"/>
<circle cx="249.8" cy="349.6" r="0.4" fill="#aaa"/>
<circle cx="224.2" cy="303.0" r="0.4" fill="#999"/>
<circle cx="220.6" cy="297.8" r="0.4" fill="#c4c4c4"/>
<circle cx="254.4" cy="358.0" r="0.4" fill="#999"/>
<circle cx="244.5" cy="340.6" r="0.4" fill="#bbb"/>
<circle cx="219.9" cy="273.6" r="0.4" fill="#bbb"/>
<circle cx="257.6" cy="357.4" r="0.4" fill="#aaa"/>
<circle cx="212.7" cy="280.9" r="0.4" fill="#999"/>
<circle cx="255.2" cy="342.8" r="0.4" fill="#c4c4c4"/>
<circle cx="228.2" cy="312.7" r="0.4" fill="#c4c4c4"/>
<circle cx="240.6" cy="310.8" r="0.4" fill="#c4c4c4"/>
<circle cx="252.9" cy="346.0" r="0.4" fill="#aaa"/>
<circle cx="223.6" cy="304.0" r="0.4" fill="#bbb"/>
<circle cx="220.4" cy="295.0" r="0.4" fill="#999"/>
<circle cx="243.8" cy="326.7" r="0.4" fill="#999"/>
<circle cx="235.9" cy="294.7" r="0.4" fill="#bbb"/>
<circle cx="223.1" cy="273.0" r="0.4" fill="#c4c4c4"/>
<circle cx="231.9" cy="322.2" r="0.4" fill="#bbb"/>
<circle cx="236.4" cy="315.4" r="0.4" fill="#aaa"/>
<circle cx="235.4" cy="298.8" r="0.4" fill="#aaa"/>
<circle cx="244.2" cy="328.9" r="0.4" fill="#aaa"/>
<circle cx="252.4" cy="350.1" r="0.4" fill="#aaa"/>
<circle cx="244.7" cy="332.3" r="0.4" fill="#999"/>
<circle cx="220.8" cy="287.1" r="0.4" fill="#bbb"/>
<circle cx="219.4" cy="279.4" r="0.4" fill="#aaa"/>
<circle cx="221.0" cy="272.8" r="0.4" fill="#c4c4c4"/>
<circle cx="240.8" cy="320.3" r="0.4" fill="#aaa"/>
<circle cx="241.0" cy="326.9" r="0.4" fill="#bbb"/>
<circle cx="230.2" cy="302.6" r="0.4" fill="#aaa"/>
<circle cx="253.2" cy="343.0" r="0.4" fill="#bbb"/>
<circle cx="231.4" cy="308.7" r="0.4" fill="#c4c4c4"/>
<circle cx="244.0" cy="317.9" r="0.4" fill="#bbb"/>
<circle cx="247.1" cy="353.0" r="0.4" fill="#c4c4c4"/>
<circle cx="215.8" cy="287.1" r="0.4" fill="#c4c4c4"/>
<circle cx="238.6" cy="324.8" r="0.4" fill="#c4c4c4"/>
<circle cx="243.4" cy="345.9" r="0.4" fill="#bbb"/>
<circle cx="218.4" cy="280.0" r="0.4" fill="#aaa"/>
<circle cx="255.1" cy="359.7" r="0.4" fill="#aaa"/>
<circle cx="230.5" cy="294.2" r="0.4" fill="#aaa"/>
<circle cx="246.5" cy="357.8" r="0.4" fill="#bbb"/>
<circle cx="225.3" cy="303.0" r="0.4" fill="#c4c4c4"/>
<circle cx="211.3" cy="267.1" r="0.4" fill="#bbb"/>
<circle cx="225.4" cy="291.7" r="0.4" fill="#bbb"/>
<circle cx="228.8" cy="318.7" r="0.4" fill="#bbb"/>
<circle cx="214.5" cy="288.4" r="0.4" fill="#c4c4c4"/>
<circle cx="237.3" cy="321.3" r="0.4" fill="#c4c4c4"/>
<circle cx="236.0" cy="317.9" r="0.4" fill="#bbb"/>
<circle cx="238.4" cy="306.4" r="0.4" fill="#c4c4c4"/>
<circle cx="242.3" cy="331.4" r="0.4" fill="#aaa"/>
<circle cx="246.0" cy="331.6" r="0.4" fill="#bbb"/>
<circle cx="224.7" cy="296.7" r="0.4" fill="#bbb"/>
<circle cx="248.1" cy="339.5" r="0.4" fill="#aaa"/>
<circle cx="222.9" cy="269.3" r="0.4" fill="#999"/>
<circle cx="220.5" cy="282.9" r="0.4" fill="#999"/>
<circle cx="217.0" cy="275.1" r="0.4" fill="#c4c4c4"/>
<circle cx="244.0" cy="343.9" r="0.4" fill="#bbb"/>
<circle cx="257.2" cy="354.7" r="0.4" fill="#999"/>
<circle cx="238.3" cy="308.7" r="0.4" fill="#aaa"/>
<circle cx="228.6" cy="291.3" r="0.4" fill="#bbb"/>
<circle cx="246.2" cy="331.1" r="0.4" fill="#bbb"/>
<circle cx="231.9" cy="303.0" r="0.4" fill="#aaa"/>
<circle cx="229.2" cy="307.9" r="0.4" fill="#bbb"/>
<circle cx="237.4" cy="314.4" r="0.4" fill="#c4c4c4"/>
<circle cx="232.4" cy="321.6" r="0.4" fill="#aaa"/>
<circle cx="251.1" cy="337.4" r="0.4" fill="#aaa"/>
<circle cx="245.6" cy="341.1" r="0.4" fill="#bbb"/>
<circle cx="247.6" cy="328.9" r="0.4" fill="#999"/>
<circle cx="230.0" cy="293.2" r="0.4" fill="#999"/>
<circle cx="229.1" cy="324.3" r="0.4" fill="#c4c4c4"/>
<circle cx="251.9" cy="342.2" r="0.4" fill="#c4c4c4"/>
<circle cx="233.9" cy="309.7" r="0.4" fill="#bbb"/>
<circle cx="239.1" cy="322.5" r="0.4" fill="#999"/>
<circle cx="224.5" cy="290.8" r="0.4" fill="#bbb"/>
<circle cx="237.0" cy="317.6" r="0.4" fill="#999"/>
<circle cx="233.9" cy="302.5" r="0.4" fill="#bbb"/>
<circle cx="216.3" cy="272.8" r="0.4" fill="#bbb"/>
<circle cx="213.2" cy="273.7" r="0.4" fill="#bbb"/>
<circle cx="229.9" cy="291.6" r="0.4" fill="#bbb"/>
<circle cx="247.8" cy="343.8" r="0.4" fill="#999"/>
<circle cx="211.1" cy="269.2" r="0.4" fill="#999"/>
<circle cx="229.3" cy="297.5" r="0.4" fill="#aaa"/>
<circle cx="213.3" cy="284.4" r="0.4" fill="#999"/>
<circle cx="220.4" cy="283.1" r="0.4" fill="#c4c4c4"/>
<circle cx="213.0" cy="261.7" r="0.4" fill="#999"/>
<circle cx="211.7" cy="277.9" r="0.4" fill="#bbb"/>
<circle cx="246.0" cy="341.2" r="0.4" fill="#aaa"/>
<circle cx="233.5" cy="316.3" r="0.4" fill="#999"/>
<circle cx="210.9" cy="271.9" r="0.4" fill="#999"/>
<circle cx="214.3" cy="277.0" r="0.4" fill="#bbb"/>
<circle cx="215.9" cy="272.8" r="0.4" fill="#999"/>
<circle cx="226.6" cy="297.6" r="0.4" fill="#bbb"/>
<circle cx="224.4" cy="298.9" r="0.4" fill="#999"/>
<circle cx="229.3" cy="290.7" r="0.4" fill="#c4c4c4"/>
<circle cx="237.3" cy="315.5" r="0.4" fill="#aaa"/>
<circle cx="218.9" cy="283.2" r="0.4" fill="#c4c4c4"/>
<circle cx="221.3" cy="277.2" r="0.4" fill="#bbb"/>
<circle cx="221.2" cy="288.1" r="0.4" fill="#c4c4c4"/>
<circle cx="220.1" cy="281.3" r="0.4" fill="#c4c4c4"/>
<circle cx="253.6" cy="346.6" r="0.4" fill="#bbb"/>
<circle cx="255.7" cy="351.1" r="0.4" fill="#c4c4c4"/>
<circle cx="246.1" cy="333.0" r="0.4" fill="#c4c4c4"/>
<circle cx="213.4" cy="280.5" r="0.4" fill="#bbb"/>
<circle cx="238.1" cy="327.8" r="0.4" fill="#999"/>
<circle cx="231.6" cy="306.9" r="0.4" fill="#999"/>
<circle cx="229.9" cy="307.4" r="0.4" fill="#bbb"/>
<circle cx="241.2" cy="328.4" r="0.4" fill="#999"/>
<circle cx="242.0" cy="315.2" r="0.4" fill="#bbb"/>
<circle cx="236.0" cy="319.2" r="0.4" fill="#bbb"/>
<circle cx="226.0" cy="281.3" r="0.4" fill="#bbb"/>
<circle cx="236.4" cy="320.5" r="0.4" fill="#c4c4c4"/>
<circle cx="220.2" cy="286.9" r="0.4" fill="#aaa"/>
<circle cx="247.3" cy="334.8" r="0.4" fill="#bbb"/>
<circle cx="244.2" cy="341.5" r="0.4" fill="#aaa"/>
<circle cx="246.7" cy="321.7" r="0.4" fill="#c4c4c4"/>
<circle cx="247.8" cy="343.0" r="0.4" fill="#bbb"/>
<circle cx="238.3" cy="314.9" r="0.4" fill="#aaa"/>
<circle cx="232.0" cy="304.0" r="0.4" fill="#bbb"/>
<circle cx="235.1" cy="310.3" r="0.4" fill="#aaa"/>
<circle cx="245.0" cy="318.0" r="0.4" fill="#999"/>
<circle cx="219.6" cy="278.2" r="0.4" fill="#aaa"/>
<circle cx="253.4" cy="344.0" r="0.4" fill="#999"/>
<circle cx="208.0" cy="274.0" r="0.4" fill="#aaa"/>
<circle cx="216.7" cy="269.0" r="0.4" fill="#999"/>
<circle cx="211.9" cy="288.1" r="0.4" fill="#c4c4c4"/>
<circle cx="219.6" cy="278.3" r="0.4" fill="#999"/>
<circle cx="216.6" cy="282.9" r="0.4" fill="#c4c4c4"/>
<circle cx="247.2" cy="339.6" r="0.4" fill="#999"/>
<circle cx="208.8" cy="281.2" r="0.4" fill="#aaa"/>
<circle cx="210.2" cy="269.6" r="0.4" fill="#c4c4c4"/>
<circle cx="234.3" cy="320.0" r="0.4" fill="#aaa"/>
<circle cx="224.4" cy="299.0" r="0.4" fill="#bbb"/>
<circle cx="242.0" cy="320.7" r="0.4" fill="#999"/>
<circle cx="242.7" cy="336.9" r="0.4" fill="#999"/>
<circle cx="223.5" cy="300.6" r="0.4" fill="#bbb"/>
<circle cx="198.8" cy="273.5" r="0.4" fill="#aaa"/>
<circle cx="240.6" cy="320.8" r="0.4" fill="#c4c4c4"/>
<circle cx="220.7" cy="292.1" r="0.4" fill="#bbb"/>
<circle cx="238.0" cy="320.2" r="0.4" fill="#999"/>
<circle cx="249.2" cy="346.7" r="0.4" fill="#bbb"/>
<circle cx="240.5" cy="336.0" r="0.4" fill="#999"/>
<circle cx="232.3" cy="309.3" r="0.4" fill="#c4c4c4"/>
<circle cx="225.3" cy="290.3" r="0.4" fill="#c4c4c4"/>
<circle cx="242.3" cy="306.7" r="0.4" fill="#999"/>
<circle cx="221.8" cy="291.3" r="0.4" fill="#c4c4c4"/>
<circle cx="223.8" cy="308.9" r="0.4" fill="#bbb"/>
<circle cx="243.9" cy="325.9" r="0.4" fill="#999"/>
<circle cx="234.3" cy="328.2" r="0.4" fill="#999"/>
<circle cx="219.6" cy="285.0" r="0.4" fill="#bbb"/>
<circle cx="222.6" cy="299.2" r="0.4" fill="#c4c4c4"/>
<circle cx="231.5" cy="305.6" r="0.4" fill="#aaa"/>
<circle cx="244.3" cy="332.1" r="0.4" fill="#aaa"/>
<circle cx="219.3" cy="289.2" r="0.4" fill="#999"/>
<circle cx="249.8" cy="341.4" r="0.4" fill="#aaa"/>
<circle cx="254.7" cy="351.6" r="0.4" fill="#999"/>
<circle cx="249.0" cy="331.4" r="0.4" fill="#aaa"/>
<circle cx="244.5" cy="322.7" r="0.4" fill="#999"/>
<circle cx="241.0" cy="318.7" r="0.4" fill="#c4c4c4"/>
<circle cx="256.0" cy="349.9" r="0.4" fill="#999"/>
<circle cx="239.6" cy="317.5" r="0.4" fill="#999"/>
<circle cx="222.6" cy="282.2" r="0.4" fill="#aaa"/>
<circle cx="225.5" cy="303.0" r="0.4" fill="#bbb"/>
<circle cx="238.6" cy="323.2" r="0.4" fill="#999"/>
<circle cx="248.2" cy="339.8" r="0.4" fill="#999"/>
<circle cx="234.5" cy="322.9" r="0.4" fill="#999"/>
<circle cx="224.7" cy="299.1" r="0.4" fill="#999"/>
<circle cx="205.2" cy="269.9" r="0.4" fill="#999"/>
<circle cx="215.4" cy="277.6" r="0.4" fill="#aaa"/>
<circle cx="253.3" cy="348.7" r="0.4" fill="#bbb"/>
<circle cx="242.5" cy="327.6" r="0.4" fill="#999"/>
<circle cx="252.5" cy="337.3" r="0.4" fill="#999"/>
<circle cx="248.5" cy="350.7" r="0.4" fill="#c4c4c4"/>
<circle cx="231.0" cy="281.1" r="0.4" fill="#c4c4c4"/>
<circle cx="228.3" cy="318.2" r="0.4" fill="#aaa"/>
<circle cx="251.9" cy="344.3" r="0.4" fill="#bbb"/>
<circle cx="228.5" cy="323.7" r="0.4" fill="#bbb"/>
<circle cx="221.2" cy="271.7" r="0.4" fill="#bbb"/>
<circle cx="225.1" cy="296.4" r="0.4" fill="#999"/>
<circle cx="229.2" cy="294.1" r="0.4" fill="#bbb"/>
<circle cx="241.8" cy="306.6" r="0.4" fill="#bbb"/>
<circle cx="248.9" cy="344.8" r="0.4" fill="#c4c4c4"/>
<circle cx="252.1" cy="349.1" r="0.4" fill="#c4c4c4"/>
<circle cx="230.0" cy="289.5" r="0.4" fill="#999"/>
<circle cx="214.9" cy="266.7" r="0.4" fill="#c4c4c4"/>
<circle cx="223.5" cy="278.9" r="0.4" fill="#aaa"/>
<circle cx="216.2" cy="285.3" r="0.4" fill="#999"/>
<circle cx="220.2" cy="283.2" r="0.4" fill="#aaa"/>
<circle cx="226.4" cy="298.7" r="0.4" fill="#c4c4c4"/>
<circle cx="253.9" cy="345.4" r="0.4" fill="#bbb"/>
<circle cx="220.7" cy="285.1" r="0.4" fill="#bbb"/>
<circle cx="235.8" cy="317.7" r="0.4" fill="#aaa"/>
<circle cx="224.6" cy="281.7" r="0.4" fill="#bbb"/>
<circle cx="239.7" cy="314.3" r="0.4" fill="#bbb"/>
<circle cx="225.9" cy="319.3" r="0.4" fill="#999"/>
<circle cx="252.6" cy="341.3" r="0.4" fill="#bbb"/>
<circle cx="254.8" cy="342.5" r="0.4" fill="#aaa"/>
<circle cx="226.3" cy="295.5" r="0.4" fill="#aaa"/>
<circle cx="257.0" cy="354.5" r="0.4" fill="#999"/>
<circle cx="223.6" cy="292.8" r="0.4" fill="#c4c4c4"/>
<circle cx="229.7" cy="313.6" r="0.4" fill="#999"/>
<circle cx="228.2" cy="307.9" r="0.4" fill="#bbb"/>
<circle cx="225.9" cy="305.4" r="0.4" fill="#bbb"/>
<circle cx="198" cy="170" r="1.3" fill="none" stroke="#c8c8c8" stroke-width="0.4"/>
<circle cx="196" cy="173" r="1.3" fill="none" stroke="#c8c8c8" stroke-width="0.4"/>
<circle cx="201" cy="176" r="1.3" fill="none" stroke="#c8c8c8" stroke-width="0.4"/>
<circle cx="193" cy="252" r="1.3" fill="none" stroke="#c8c8c8" stroke-width="0.4"/>
<circle cx="191" cy="255" r="1.3" fill="none" stroke="#c8c8c8" stroke-width="0.4"/>
<circle cx="236" cy="238" r="1.3" fill="none" stroke="#c8c8c8" stroke-width="0.4"/>
<circle cx="246" cy="243" r="1.3" fill="none" stroke="#c8c8c8" stroke-width="0.4"/>
<circle cx="250" cy="247" r="1.3" fill="none" stroke="#c8c8c8" stroke-width="0.4"/>
<circle cx="242" cy="250" r="1.3" fill="none" stroke="#c8c8c8" stroke-width="0.4"/>
<circle cx="226" cy="290" r="1.3" fill="none" stroke="#c8c8c8" stroke-width="0.4"/>
<circle cx="230" cy="305" r="1.3" fill="none" stroke="#c8c8c8" stroke-width="0.4"/>
<circle cx="264" cy="375" r="1.3" fill="none" stroke="#c8c8c8" stroke-width="0.4"/>
<circle cx="258" cy="368" r="1.3" fill="none" stroke="#c8c8c8" stroke-width="0.4"/>
<circle cx="243.2" cy="204.5" r="0.9" fill="#888"/>
<filter id="bl" x="-50%" y="-50%" width="200%" height="200%"><feGaussianBlur stdDeviation="1.1"/></filter>
<path d="M222,290 L229,296 L231.5,312 L227.5,314 L224,303 Z" fill="#8a8a8a" opacity="0.6" filter="url(#bl)"/>
<path d="M212,274 L226,294 L230,300 L222,296 Z" fill="#c4c4c4" opacity="0.5" filter="url(#bl)"/>
<path d="M196,221 L214,222 L214,227 L194,227 Z" fill="#c8c8c8" opacity="0.35" filter="url(#bl)"/>
<path d="M180,252 L212,252 L212,257 L180,257 Z" fill="#c8c8c8" opacity="0.3" filter="url(#bl)"/>
<path d="M226.5,225.8 L226.4,227.3 L226.0,228.7 L225.9,230.2 L225.2,231.7 L225.6,233.4 L225.4,234.9 L225.3,236.5 L225.0,238.2 L225.3,239.9 L224.7,241.5 L224.3,243.2 L223.7,244.8 L223.4,246.5 L223.8,247.9 L225.3,248.8 L225.7,250.2 L226.7,251.3 L226.6,253.0 L227.5,254.2 L228.4,255.3 L227.4,256.6 L225.6,256.4 L224.3,257.2 L223.4,258.5 L224.1,259.6 L225.0,260.7 L225.9,261.6 L225.9,263.3 L225.7,264.9 L224.7,266.3 L224.2,268.0 L224.3,269.8 L223.4,271.3 L224.7,272.1 L225.6,273.1 L226.8,274.0 L227.4,275.3 L228.4,276.4 L228.9,277.6 L229.0,279.0 L229.8,280.2 L230.3,281.4 L231.0,282.8 L232.0,283.9 L232.8,285.2 L231.8,286.3 L231.2,287.7 L230.3,288.9 L231.4,290.0 L231.5,291.8 L232.8,292.7 L231.9,294.1 L232.2,295.8 L230.5,296.0 L229.0,297.0 L229.3,298.4 L230.2,299.6 L230.5,301.0 L230.1,302.5 L229.4,303.8 L228.5,305.0 L229.8,306.1 L229.9,307.8 L231.0,309.0 L230.8,310.9 L230.3,312.8 L231.9,313.6 L233.7,313.5 L235.3,314.1 L236.9,314.6 L238.4,314.5 L240.0,313.5 L241.6,314.1 L241.3,315.5 L240.4,316.6 L241.0,317.9 L242.3,318.5 L242.8,319.9 L244.2,320.4 L242.8,321.1 L241.4,321.5 L242.9,321.8 L243.9,323.2 L245.2,323.8 L246.2,324.9 L247.8,325.2 L248.9,326.3 L247.9,327.5 L246.5,328.1 L245.2,328.8 L246.1,330.2 L247.5,330.9 L249.2,331.3 L250.2,332.6 L249.6,334.0 L248.9,335.4 L247.7,336.4 L249.2,336.8 L250.0,338.4 L251.4,338.9 L252.8,339.2 L253.9,340.2 L255.3,340.7 L256.5,341.4 L258.2,342.0 L259.6,343.3 L258.3,343.8 L257.7,345.2 L256.2,345.5 L255.2,346.4 L255.2,347.8 L254.5,349.0 L254.0,350.2 L256.0,350.5 L257.7,351.4 L258.6,352.5 L258.5,354.2 L259.3,355.4 L260.3,356.5 L261.1,357.6 L261.1,359.2 L262.5,360.1 L262.8,361.5 L264.1,362.2 L265.1,363.5 L266.5,364.1 L268.1,364.4 L268.7,366.2 L270.3,366.5 L270.4,364.7 L270.9,363.1 L271.6,361.5 L272.7,360.7 L273.1,359.3 L274.1,358.4 L275.0,359.8 L275.8,361.1 L276.0,362.8 L277.7,362.9 L279.1,364.0 L279.9,365.3 L281.0,366.4 L281.6,367.8 L282.8,368.2 L284.2,368.3 L285.4,368.7 L286.7,369.1 L288.3,368.2 L289.2,366.5 L290.0,367.8 L290.8,369.1 L291.7,370.3 L292.7,371.4 L294.4,371.5 L295.7,372.2 L296.5,373.8 L298.0,374.1 L298.5,375.6 L299.9,376.5 L300.5,377.9 L301.7,377.2 L303.1,377.4 L304.4,377.3 L305.4,376.0 L306.8,376.0 L307.4,377.4 L308.5,378.3 L309.7,379.1 L310.8,380.0 L312.1,380.9 L313.6,381.5 L314.9,382.4 L315.8,383.8 L314.4,384.1 L313.8,385.6 L312.4,385.9 L311.4,386.9 L310.3,388.0 L308.6,388.3 L307.6,389.5 L308.5,390.5 L309.5,391.4 L308.9,393.9 L310.5,393.7 L312.0,393.5 L313.6,394.2 L315.2,393.9 L317.2,394.0 L318.9,395.1 L320.3,395.4 L321.4,396.4 L322.5,397.4 L324.0,397.6 L325.6,397.4 L327.1,396.7 L328.8,397.2 L330.3,396.4 L331.8,396.0 L333.3,395.8 L334.8,396.1 L336.3,396.3 L337.8,396.4 L339.2,396.4 L340.4,397.0 L341.6,397.7 L342.8,398.3 L344.4,398.5 L346.0,398.2 L347.5,398.6 L349.1,398.9 L350.2,399.9 L351.4,400.7 L352.8,400.9 L354.2,401.4 L355.3,402.4 L356.6,403.1 L358.2,403.4 L359.2,404.6 L360.7,403.7 L362.2,403.4 L364.0,404.1 L365.5,403.3 L367.1,403.4 L368.7,403.6 L370.2,402.3 L371.8,402.7 L373.0,403.5 L374.3,403.9 L375.5,404.6 L376.3,405.7 L377.7,406.2 L378.2,407.7 L379.9,407.7 L380.6,409.0 L381.8,410.1 L382.9,411.3 L384.3,412.1 L384.9,413.4 L386.0,414.2 L387.0,415.1 L388.1,415.9 L388.2,417.5 L388.5,419.0 L389.4,420.3 L389.9,421.8 L389.8,423.5 L389.8,425.1 L390.6,426.6 L390.2,428.3 L390.7,429.9 L390.6,431.6 L390.4,433.2 L390.5,434.8 L391.0,436.3 L391.3,437.9 L390.5,439.5 L390.0,441.3 L390.3,442.9 L390.2,444.5 L390.3,446.0 L390.6,447.6 L390.7,449.4 L389.6,450.9 L389.4,452.6 L388.6,454.2 L388.5,455.9 L388.7,457.6 L389.3,459.0 L390.5,460.1 L391.3,461.4 L390.8,462.9 L390.9,464.5 L390.8,466.1 L390.6,467.7 L390.0,469.3 L390.7,471.1 L390.0,472.7 L390.0,474.0 L391.2,475.1 L390.9,476.6 L391.3,477.8 L391.4,479.2 L391.7,480.7 L391.2,482.1 L391.5,483.6 L391.6,485.0 L390.3,483.9 L388.8,483.1 L387.8,481.8 L386.1,481.7 L385.0,480.6 L384.2,482.3 L382.5,483.1 L382.5,484.6 L381.9,486.0 L381.9,487.5 L382.6,489.1 L383.1,490.7 L383.1,492.5 L381.8,493.1 L381.3,494.4 L379.4,493.9 L377.5,493.8 L376.3,494.5 L374.8,494.6 L373.8,495.9 L372.5,496.3 L371.2,497.0 L370.2,498.3 L368.8,498.8 L368.0,499.9 L366.8,500.6 L366.3,501.9 L366.9,504.4 L368.4,504.9 L369.8,504.9 L371.3,504.4 L372.7,504.1 L374.1,504.2 L375.5,503.7 L376.9,503.8 L376.3,505.0 L375.0,505.6 L373.8,506.6 L372.5,507.5 L372.5,509.4 L373.6,510.2 L374.9,510.6 L376.3,510.6 L378.0,510.9 L379.6,511.1 L381.3,510.6 L382.7,511.3 L383.8,512.5 L384.8,513.9 L385.0,515.6 L386.3,517.5 L385.5,518.6 L384.8,519.7 L383.8,520.6 L383.3,522.1 L382.2,523.2 L381.3,524.4 L380.5,525.9 L380.0,527.5 L377.5,527.5 L377.5,529.4 L377.5,531.3 L377.1,533.2 L376.3,535.0 L375.1,535.8 L374.2,536.7 L373.8,538.1 L372.6,539.1 L371.3,540.0" fill="none" stroke="#383838" stroke-width="0.68" />
<path d="M260.3,356.5 L267.8,355.8 L270.3,356.5 L267.8,359.0 L264.0,357.7 L261.5,359.0 L262.8,361.5" fill="none" stroke="#383838" stroke-width="0.6" />
<path d="M226.5,225.8 L229.0,225.2 L232.8,226.4 L237.2,227.0 L236.5,230.0 L233.5,231.5 L232.2,232.7" fill="none" stroke="#383838" stroke-width="0.68" />
<path d="M232.2,232.7 L232.5,234.4 L232.4,236.1 L231.6,237.7 L231.5,239.4 L232.7,240.7 L232.3,242.5 L232.8,244.0 L233.3,245.3 L234.3,246.4 L234.4,247.9 L235.3,249.0 L236.5,250.0 L237.0,251.3 L237.3,252.7 L237.9,254.0 L238.1,255.4 L237.2,256.6 L238.8,256.3 L240.0,255.0 L241.6,254.7 L243.1,255.4 L244.5,256.4 L245.4,257.9 L244.0,259.0 L242.9,260.4 L241.7,260.9 L240.3,261.1 L239.1,261.6 L240.3,262.2 L241.6,262.5 L240.2,263.0 L238.8,263.6 L237.7,264.7 L236.6,265.7 L236.0,267.5 L237.1,268.6 L237.7,270.0 L238.5,271.3 L239.1,273.0 L239.5,274.6 L239.1,276.4 L239.9,277.6 L240.4,279.0 L241.7,279.9 L242.4,281.2 L242.9,282.6 L242.6,283.9 L241.7,285.0 L241.4,286.4 L240.8,287.6 L240.4,288.9 L241.5,290.0 L243.0,290.5 L244.2,291.4 L244.3,292.8 L244.5,294.1 L245.4,295.2 L247.0,296.1 L247.9,297.7 L249.3,297.8 L250.5,297.2 L251.7,296.5 L252.6,297.6 L252.8,299.0 L253.1,300.3 L253.2,301.7 L254.2,302.8 L255.0,304.0 L255.5,305.3 L257.1,305.4 L258.6,305.8 L260.2,305.7 L261.8,305.3 L262.6,304.2 L262.4,302.8 L262.9,301.5 L262.7,300.2 L263.6,299.0 L263.6,297.7 L261.8,296.5 L262.8,295.4 L263.2,294.0 L263.9,292.8 L264.3,291.4 L266.8,290.8 L267.8,292.3 L268.1,294.0 L267.0,295.0 L266.8,296.5 L267.8,297.6 L269.0,298.3 L270.5,298.4 L271.8,299.0 L270.5,299.1 L269.4,300.1 L268.1,300.3 L267.0,301.3 L266.8,302.8 L267.5,304.0 L268.8,304.5 L270.0,305.2 L270.6,306.5 L269.1,306.8 L267.5,307.0 L266.0,307.0 L264.5,307.6 L263.0,307.8 L263.4,309.5 L262.2,311.1 L262.4,312.8 L263.9,312.6 L265.2,313.8 L266.8,313.4 L268.1,314.1 L269.8,314.3 L271.4,315.2 L273.1,315.3 L273.1,317.2 L271.4,317.6 L269.8,317.6 L268.1,317.2 L266.6,317.3 L265.0,317.2 L263.5,317.2 L262.0,317.5 L260.5,317.9 L259.2,318.4 L258.6,319.8 L257.3,320.3 L256.7,321.6 L258.4,321.4 L260.0,321.9 L261.5,322.5 L262.1,323.8 L263.0,324.9 L263.1,326.4 L264.0,327.5 L265.6,327.8 L267.1,327.9 L268.7,328.4 L270.3,328.2 L270.9,329.8 L271.6,331.3 L270.5,332.3 L269.1,333.1 L267.8,333.8 L266.5,335.7 L267.5,337.1 L268.7,338.2 L270.3,338.9 L271.7,339.4 L272.6,340.8 L273.8,341.7 L275.3,342.0 L275.9,343.6 L276.6,345.2 L275.3,346.4 L274.1,347.7 L275.6,348.2 L276.6,349.4 L277.9,350.2 L279.5,350.4 L281.0,350.6 L282.7,350.1 L284.2,350.8 L285.1,352.1 L286.7,352.5 L287.9,353.3 L289.2,354.3 L290.2,355.7 L291.7,356.5 L292.1,354.9 L292.3,353.3 L292.9,351.8 L293.0,350.2 L294.5,350.3 L295.5,351.4 L295.5,353.1 L295.6,354.8 L295.5,356.5 L296.9,356.1 L297.9,355.2 L298.6,354.0 L299.9,355.1 L300.8,356.4 L301.8,357.7 L303.5,356.7 L305.5,356.5 L306.4,355.5 L307.7,354.9 L308.7,354.0 L309.3,352.7 L310.2,351.7 L311.2,350.8 L310.0,350.2 L308.8,349.6 L308.0,348.4 L306.8,347.7 L307.2,346.1 L306.1,344.6 L306.7,342.9 L306.2,341.4 L306.7,339.5 L308.1,338.2 L309.9,338.9 L309.6,340.3 L308.9,341.5 L307.8,342.5 L307.4,343.9 L308.4,344.9 L309.1,346.0 L309.7,347.3 L310.6,348.3 L311.6,347.1 L313.2,346.9 L314.3,345.8 L315.8,346.0 L316.9,347.0 L316.9,348.5 L317.2,349.9 L316.9,351.4 L317.9,350.3 L319.4,349.8 L320.6,348.9 L322.2,348.7 L323.7,348.5 L325.3,348.3 L326.9,348.3 L328.2,348.0 L329.3,347.1 L330.6,346.8 L332.0,346.9 L333.2,346.4 L334.4,347.2 L335.7,347.7 L336.8,348.7 L338.2,349.1 L339.5,349.6 L340.0,351.3 L341.4,351.5 L342.6,350.5 L344.1,350.8 L345.4,350.6 L346.7,350.0 L347.8,350.9 L349.4,350.7 L350.6,351.3 L349.8,352.8 L348.6,354.0 L350.0,355.1 L351.9,355.0 L353.3,355.9 L354.9,355.8 L356.0,354.6 L357.1,353.1 L357.3,351.3 L359.3,350.6 L360.2,352.0 L360.6,353.5 L360.5,355.2 L361.3,356.6 L362.8,357.4 L364.0,358.6 L364.2,356.8 L365.3,355.3 L366.6,354.0 L367.8,354.7 L369.3,354.6 L370.5,355.3 L371.9,355.3 L373.4,355.3 L374.6,356.1 L375.9,356.6 L376.6,358.1 L378.2,358.9 L378.6,360.6 L379.3,362.0 L379.0,363.6 L379.1,365.2 L379.9,366.6 L381.3,366.0 L381.9,364.6 L381.1,363.0 L381.3,361.3 L382.8,361.1 L384.4,361.1 L385.9,360.6 L386.5,362.0 L387.2,363.3 L386.6,364.6 L386.7,366.1 L386.4,367.5 L385.9,368.8 L385.6,370.1 L384.6,371.3 L385.7,372.2 L386.8,373.0 L387.9,373.9 L388.5,372.6 L388.5,371.1 L389.0,369.8 L389.9,368.6 L390.1,367.1 L391.3,366.1 L392.0,364.8 L391.9,363.3 L393.9,363.3 L393.8,364.7 L394.6,365.9 L396.0,365.7 L397.3,365.8 L398.5,366.6 L399.0,368.0 L400.3,368.8 L401.2,369.9 L399.6,371.0 L398.5,372.6 L399.9,372.9 L401.2,373.6 L402.5,374.1 L403.9,374.6 L404.5,373.4 L405.3,372.3 L405.3,370.8 L406.5,369.9 L407.6,370.9 L408.7,371.8 L410.3,372.0 L411.3,373.1 L412.5,373.9 L413.5,372.7 L413.9,371.3 L413.1,370.0 L412.5,368.6 L413.9,369.0 L415.1,369.6 L416.0,370.6 L417.2,371.3 L418.7,371.7 L419.1,373.4 L420.5,373.9 L420.1,375.2 L420.3,376.5 L420.1,377.9 L420.5,379.2 L419.1,379.4 L417.9,380.0 L416.5,380.1 L415.2,380.5 L413.7,380.3 L412.5,381.2 L411.2,381.9 L410.5,383.2 L411.9,383.3 L413.0,384.4 L414.4,384.5 L415.8,384.6 L417.0,385.4 L418.3,385.8 L419.8,385.9 L420.6,384.8 L421.9,384.2 L422.7,383.2 L423.2,381.9 L424.4,382.8 L425.7,383.5 L427.2,383.9 L428.1,385.1 L429.6,385.8 L430.5,387.1 L431.8,387.9 L431.1,389.4 L429.7,390.2 L428.5,391.2 L430.2,391.8 L431.8,392.5 L432.8,390.9 L434.4,390.2 L435.8,389.2 L436.1,390.8 L436.5,392.4 L437.1,393.9 L437.5,392.2 L438.9,391.0 L439.1,389.2 L440.1,390.4 L441.5,391.3 L442.5,392.5 L442.3,393.8 L442.4,395.2 L442.5,396.5 L441.1,397.1 L439.9,398.0 L438.2,398.0 L437.1,399.2 L438.6,399.4 L440.1,399.4 L441.7,399.5 L443.2,399.2 L444.3,400.5 L446.3,400.3 L447.4,401.6 L447.5,403.0 L447.7,404.5 L448.2,405.8 L446.5,406.1 L444.9,405.9 L443.2,405.8 L441.7,406.7 L439.9,406.6 L441.2,407.1 L442.2,408.1 L443.2,409.1 L444.1,410.4 L444.3,412.0 L444.0,413.7 L444.9,415.0 L446.1,415.5 L447.4,415.8 L447.4,414.1 L448.0,412.5 L447.4,410.8 L449.9,410.8 L449.9,412.1 L449.5,413.5 L450.1,414.8 L450.0,416.1 L451.0,417.3 L450.5,418.7 L450.7,420.0 L451.9,420.7 L453.2,420.8 L452.5,419.4 L453.3,417.8 L452.2,416.5 L452.4,415.0 L454.9,415.0 L455.6,416.2 L456.5,417.3 L456.8,418.7 L457.4,420.0 L457.6,421.4 L458.5,422.7 L457.7,424.3 L458.6,425.5 L458.8,426.9 L459.1,428.3 L459.2,429.6 L459.6,430.9 L459.9,432.1 L459.6,433.5 L459.9,434.8 L460.4,436.0 L460.1,437.4 L460.8,438.6 L460.7,439.9 L461.4,441.2 L461.2,442.5 L461.5,443.8 L461.5,445.1 L460.8,446.4 L461.4,447.7 L460.8,449.0 L461.1,450.3 L461.5,451.6 L462.3,452.9 L461.5,454.5 L461.8,455.9 L463.1,457.0 L462.4,458.6 L463.2,459.9 L464.4,460.9 L465.4,462.1 L466.5,463.2 L466.2,465.0 L467.4,466.5 L467.4,468.2 L466.9,469.6 L465.9,470.9 L465.6,472.4 L465.4,474.0 L464.8,475.4 L463.6,476.2 L463.1,477.4 L462.6,478.7 L462.4,480.1 L461.2,480.9 L460.6,482.1 L460.2,483.4 L459.7,484.6 L458.5,485.4 L457.7,486.5 L457.4,487.9 L456.3,488.8 L457.0,490.0 L457.5,491.3 L456.1,492.4 L455.0,493.8 L454.8,495.7 L454.4,497.5 L453.0,498.4 L451.4,498.7 L450.0,499.4 L448.3,499.7 L446.6,499.5 L445.0,500.0 L443.7,500.9 L442.5,501.9 L443.1,504.4 L444.6,505.0 L446.0,504.9 L447.5,504.4 L448.8,504.2 L449.9,503.2 L451.1,502.5 L452.5,502.5 L454.0,502.6 L455.4,502.2 L456.8,501.6 L458.1,501.0 L459.5,500.6 L461.0,500.5 L462.3,500.5 L463.6,500.1 L464.9,499.9 L466.2,499.7 L467.6,499.5 L468.7,498.6 L470.0,498.5 L471.5,499.1 L472.8,498.7 L474.0,498.0" fill="none" stroke="#383838" stroke-width="0.68" />
<line x1="196.3" y1="220.4" x2="213.7" y2="220.4" stroke="#8d8d8d" stroke-width="0.5" />
<line x1="193" y1="226.2" x2="213.7" y2="226.2" stroke="#8d8d8d" stroke-width="0.5" />
<line x1="221" y1="233" x2="233" y2="233" stroke="#8d8d8d" stroke-width="0.5" />
<line x1="193.3" y1="248" x2="211" y2="248" stroke="#8d8d8d" stroke-width="0.5" />
<line x1="175.8" y1="253.5" x2="218.5" y2="253.5" stroke="#8d8d8d" stroke-width="0.5" />
<line x1="199" y1="256.5" x2="212" y2="256.5" stroke="#8d8d8d" stroke-width="0.5" />
<line x1="225" y1="296" x2="240" y2="296" stroke="#8d8d8d" stroke-width="0.5" />
<line x1="225" y1="303.5" x2="241" y2="303.5" stroke="#8d8d8d" stroke-width="0.5" />
<line x1="219" y1="308.3" x2="236" y2="308.3" stroke="#8d8d8d" stroke-width="0.5" />
<line x1="255" y1="353.5" x2="276" y2="353.5" stroke="#8d8d8d" stroke-width="0.5" />
<line x1="193" y1="226.2" x2="213.7" y2="226.2" stroke="#666" stroke-width="0.7" />
<line x1="175.8" y1="253.5" x2="218.5" y2="253.5" stroke="#666" stroke-width="0.6" />
<line x1="268.3" y1="73.8" x2="287.5" y2="73.8" stroke="#b5b5b5" stroke-width="0.5" stroke-dasharray="0.8 0.6"/>
</g>
<text x="242.5" y="75" class="lb" textLength="25.8" lengthAdjust="spacingAndGlyphs" >Argentina</text>
<text x="180" y="221.6" class="lb" textLength="16.3" lengthAdjust="spacingAndGlyphs" >Brazil</text>
<text x="179.5" y="227" class="lb" textLength="15" lengthAdjust="spacingAndGlyphs" >Chile</text>
<text x="208.3" y="233" class="lb" textLength="12.7" lengthAdjust="spacingAndGlyphs" >Chile</text>
<text x="179.5" y="248.7" class="lb" textLength="13.8" lengthAdjust="spacingAndGlyphs" >Spain</text>
<text x="175.8" y="254.7" class="lb" textLength="23.5" lengthAdjust="spacingAndGlyphs" >South Africa</text>
<text x="178" y="256.5" class="lb" textLength="14" lengthAdjust="spacingAndGlyphs" opacity="0.7">China</text>
<text x="214.4" y="296.8" class="lb" textLength="11.1" lengthAdjust="spacingAndGlyphs" >Chile</text>
<text x="181.1" y="303.7" class="lb" textLength="43.7" lengthAdjust="spacingAndGlyphs" >United Kingdom</text>
<text x="208.8" y="308.6" class="lb" textLength="10.4" lengthAdjust="spacingAndGlyphs" >USA</text>
<text x="212.3" y="353.7" class="lb" textLength="43" lengthAdjust="spacingAndGlyphs" >United Kingdom</text>
<text x="93.75" y="147" textLength="64" lengthAdjust="spacing" style="font:italic 10.5px 'Liberation Serif',serif" fill="#a6a6a6">ATLANTIC</text>
<text x="105" y="157.5" textLength="42" lengthAdjust="spacing" style="font:italic 10.5px 'Liberation Serif',serif" fill="#a6a6a6">OCEAN</text>
<text x="246" y="237" textLength="50" lengthAdjust="spacingAndGlyphs" style="font:italic 10.5px 'Liberation Serif',serif" fill="#c6c6c6">ESPERANZA</text>
<text x="400" y="225.5" textLength="61" lengthAdjust="spacing" style="font:italic 10.5px 'Liberation Serif',serif" fill="#a6a6a6">WEDDELL</text>
<text x="418.75" y="237" textLength="22.5" lengthAdjust="spacing" style="font:italic 10.5px 'Liberation Serif',serif" fill="#a6a6a6">SEA</text>
<text x="222.8" y="476.1" textLength="76.5" lengthAdjust="spacing" style="font:italic 10.5px 'Liberation Serif',serif" fill="#a6a6a6">NGSHAUSEN</text>
<text x="230.4" y="487.4" textLength="22.5" lengthAdjust="spacing" style="font:italic 10.5px 'Liberation Serif',serif" fill="#a6a6a6">SEA</text>
<text x="305.2" y="429.6" textLength="35" lengthAdjust="spacing" style="font:italic 6.5px 'Liberation Serif',serif" fill="#8a8a8a">Wilkins</text>
<text x="301.5" y="446.5" textLength="42" lengthAdjust="spacing" style="font:italic 6.5px 'Liberation Serif',serif" fill="#8a8a8a">Ice Shelf</text>
<line x1="419.7" y1="7.6" x2="435.3" y2="7.6" stroke="#555" stroke-width="0.6" />
<line x1="427.6" y1="1.5" x2="427.6" y2="13.8" stroke="#555" stroke-width="0.6" />
<rect x="100.2" y="458.3" width="119.8" height="66.8" fill="#fff" stroke="#bdbdbd" stroke-width="0.6"/>
<text x="105.2" y="470.8" textLength="20.6" lengthAdjust="spacingAndGlyphs" style="font:bold 5px 'Liberation Sans',sans-serif" fill="#444">Australia</text>
<line x1="125.8" y1="470.6" x2="142.2" y2="470.6" stroke="#666" stroke-width="0.6" />
<text x="144.2" y="471.6" class="lg" textLength="65.8" lengthAdjust="spacingAndGlyphs" >harbour, country and size</text>
<text x="144.2" y="492.2" class="lg" textLength="59" lengthAdjust="spacingAndGlyphs" >main corridor of vessel</text>
<text x="144.2" y="500.5" class="lg" textLength="15.8" lengthAdjust="spacingAndGlyphs" >routes</text>
<text x="144.2" y="509.3" class="lg" textLength="63.5" lengthAdjust="spacingAndGlyphs" >main touristic points and</text>
<text x="144.2" y="517.3" class="lg" textLength="72.8" lengthAdjust="spacingAndGlyphs" >shortest path to vessel route</text>
<line x1="116.3" y1="494.2" x2="124.3" y2="494.2" stroke="#c0c0c0" stroke-width="0.5" />
<line x1="120.3" y1="490.2" x2="120.3" y2="498.2" stroke="#c0c0c0" stroke-width="0.5" />
<line x1="111.5" y1="516.8" x2="122" y2="511.2" stroke="#b0b0b0" stroke-width="0.5" />
<path d="M122.3,507 L129,510.6 L122.3,514.8 Z" fill="none" stroke="#a8a8a8" stroke-width="0.5"/>
</g>
<g id="titles">
<text x="316" y="47.3" class="v1" textLength="120.7" lengthAdjust="spacingAndGlyphs">Vessels' routes</text>
<text x="391" y="66.9" class="v2" textLength="45" lengthAdjust="spacingAndGlyphs">tourism</text>
<text x="523.3" y="47.6" class="t1" textLength="32.5" lengthAdjust="spacingAndGlyphs">CO</text>
<text x="557.3" y="56.7" style="font:bold 15.5px 'Liberation Serif',serif" fill="#111" textLength="8.2" lengthAdjust="spacingAndGlyphs">2</text>
<text x="572.5" y="47.6" class="t1" textLength="263" lengthAdjust="spacingAndGlyphs">production by vessels</text>
<text x="523" y="70.5" class="t2" textLength="76" lengthAdjust="spacingAndGlyphs">kg/per/trip</text>
</g>
<g id="chart">
<line x1="656.2" y1="136" x2="656.2" y2="378.5" stroke="#c0c0c0" stroke-width="0.55"/>
<line x1="729.0" y1="136" x2="729.0" y2="378.5" stroke="#c0c0c0" stroke-width="0.55"/>
<line x1="801.7" y1="136" x2="801.7" y2="378.5" stroke="#c0c0c0" stroke-width="0.55"/>
<line x1="874.5" y1="136" x2="874.5" y2="378.5" stroke="#c0c0c0" stroke-width="0.55"/>
<rect x="583.3" y="142.00" width="245.45" height="9" fill="#8c8c8c"/>
<text x="553.19" y="149.60" class="bl" textLength="27.31" lengthAdjust="spacingAndGlyphs">gccl tour 2</text>
<rect x="583.3" y="155.94" width="187.70" height="9" fill="#8c8c8c"/>
<text x="553.19" y="163.54" class="bl" textLength="27.31" lengthAdjust="spacingAndGlyphs">gccl tour 1</text>
<rect x="583.3" y="169.88" width="200.20" height="9" fill="#8c8c8c"/>
<text x="537.29" y="177.48" class="bl" textLength="43.21" lengthAdjust="spacingAndGlyphs">Adventure tour 3</text>
<rect x="583.3" y="183.82" width="215.70" height="9" fill="#8c8c8c"/>
<text x="537.29" y="191.42" class="bl" textLength="43.21" lengthAdjust="spacingAndGlyphs">Adventure tour 2</text>
<rect x="583.3" y="197.76" width="323.45" height="9" fill="#8c8c8c"/>
<text x="537.29" y="205.36" class="bl" textLength="43.21" lengthAdjust="spacingAndGlyphs">Adventure tour 1</text>
<rect x="583.3" y="211.70" width="279.45" height="9" fill="#8c8c8c"/>
<text x="536.69" y="219.30" class="bl" textLength="43.81" lengthAdjust="spacingAndGlyphs">Cheesman tour 2</text>
<rect x="583.3" y="225.64" width="326.45" height="9" fill="#8c8c8c"/>
<text x="536.69" y="233.24" class="bl" textLength="43.81" lengthAdjust="spacingAndGlyphs">Cheesman tour 1</text>
<rect x="583.3" y="239.58" width="135.45" height="9" fill="#8c8c8c"/>
<text x="541.80" y="247.18" class="bl" textLength="38.70" lengthAdjust="spacingAndGlyphs">Antrpply tour 4</text>
<rect x="583.3" y="253.52" width="147.20" height="9" fill="#8c8c8c"/>
<text x="541.80" y="261.12" class="bl" textLength="38.70" lengthAdjust="spacingAndGlyphs">Antrpply tour 3</text>
<rect x="583.3" y="267.46" width="232.70" height="9" fill="#8c8c8c"/>
<text x="541.80" y="275.06" class="bl" textLength="38.70" lengthAdjust="spacingAndGlyphs">Antrpply tour 2</text>
<rect x="583.3" y="281.40" width="122.70" height="9" fill="#8c8c8c"/>
<text x="541.80" y="289.00" class="bl" textLength="38.70" lengthAdjust="spacingAndGlyphs">Antrpply tour 1</text>
<rect x="583.3" y="295.34" width="197.70" height="9" fill="#8c8c8c"/>
<text x="542.10" y="302.94" class="bl" textLength="38.40" lengthAdjust="spacingAndGlyphs">Albatros tour 4</text>
<rect x="583.3" y="309.28" width="257.20" height="9" fill="#8c8c8c"/>
<text x="542.10" y="316.88" class="bl" textLength="38.40" lengthAdjust="spacingAndGlyphs">Albatros tour 3</text>
<rect x="583.3" y="323.22" width="255.20" height="9" fill="#8c8c8c"/>
<text x="542.10" y="330.82" class="bl" textLength="38.40" lengthAdjust="spacingAndGlyphs">Albatros tour 2</text>
<rect x="583.3" y="337.16" width="284.20" height="9" fill="#8c8c8c"/>
<text x="542.10" y="344.76" class="bl" textLength="38.40" lengthAdjust="spacingAndGlyphs">Albatros tour 1</text>
<rect x="583.3" y="351.10" width="266.70" height="9" fill="#8c8c8c"/>
<text x="528.79" y="358.70" class="bl" textLength="51.71" lengthAdjust="spacingAndGlyphs">omble &amp; kent Tour 2</text>
<rect x="583.3" y="365.04" width="167.20" height="9" fill="#8c8c8c"/>
<text x="528.79" y="372.64" class="bl" textLength="51.71" lengthAdjust="spacingAndGlyphs">omble &amp; kent Tour 1</text>
<line x1="583.3" y1="136" x2="583.3" y2="378" stroke="#666" stroke-width="0.7"/>
<text x="582.15" y="386.5" class="bl" textLength="3.50" lengthAdjust="spacingAndGlyphs">0</text>
<text x="648.04" y="386.5" class="bl" textLength="17.52" lengthAdjust="spacingAndGlyphs">10000</text>
<text x="720.84" y="386.5" class="bl" textLength="17.52" lengthAdjust="spacingAndGlyphs">20000</text>
<text x="793.54" y="386.5" class="bl" textLength="17.52" lengthAdjust="spacingAndGlyphs">30000</text>
<text x="866.34" y="386.5" class="bl" textLength="17.52" lengthAdjust="spacingAndGlyphs">40000</text>
<rect x="940" y="382.3" width="1.1" height="3.9" fill="#3a3a3a"/>
</g>
<g id="border">
<rect x="0" y="0" width="1024" height="1.6" fill="#000"/>
<rect x="0" y="0" width="1.6" height="541" fill="#000"/>
<rect x="0" y="539" width="1024" height="2" fill="#000"/>
<rect x="1023" y="0" width="1" height="541" fill="#333"/>
</g>
</svg>
</body></html>
